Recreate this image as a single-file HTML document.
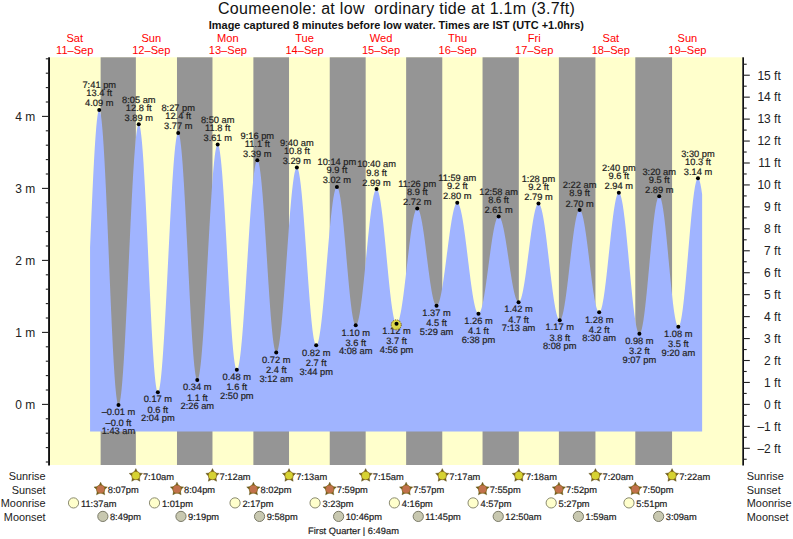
<!DOCTYPE html>
<html><head><meta charset="utf-8"><title>Coumeenole tide chart</title>
<style>
html,body{margin:0;padding:0;background:#fff;}
body{width:793px;height:539px;overflow:hidden;font-family:"Liberation Sans",sans-serif;}
svg{display:block;}
</style></head><body>
<svg width="793" height="539" viewBox="0 0 793 539" font-family="Liberation Sans, sans-serif">
<rect x="0" y="0" width="793" height="539" fill="#ffffff"/>
<rect x="50.00" y="57.30" width="692.30" height="407.70" fill="#ffffcc"/>
<rect x="100.63" y="57.30" width="35.23" height="407.70" fill="#959595"/>
<rect x="176.98" y="57.30" width="35.49" height="407.70" fill="#959595"/>
<rect x="253.38" y="57.30" width="35.65" height="407.70" fill="#959595"/>
<rect x="329.74" y="57.30" width="35.92" height="407.70" fill="#959595"/>
<rect x="406.14" y="57.30" width="36.13" height="407.70" fill="#959595"/>
<rect x="482.54" y="57.30" width="36.29" height="407.70" fill="#959595"/>
<rect x="558.89" y="57.30" width="36.55" height="407.70" fill="#959595"/>
<rect x="635.30" y="57.30" width="36.77" height="407.70" fill="#959595"/>
<path d="M90.06,431.50 L90.06,247.22 L90.22,243.43 L90.38,239.64 L90.54,235.86 L90.69,232.09 L90.85,228.34 L91.01,224.61 L91.17,220.89 L91.33,217.20 L91.49,213.53 L91.65,209.90 L91.81,206.29 L91.97,202.72 L92.13,199.18 L92.29,195.68 L92.45,192.22 L92.61,188.80 L92.77,185.43 L92.93,182.11 L93.09,178.83 L93.24,175.61 L93.40,172.45 L93.56,169.34 L93.72,166.29 L93.88,163.30 L94.04,160.37 L94.20,157.51 L94.36,154.72 L94.52,151.99 L94.68,149.34 L94.84,146.76 L95.00,144.25 L95.16,141.82 L95.32,139.47 L95.48,137.20 L95.64,135.02 L95.80,132.91 L95.95,130.89 L96.11,128.95 L96.27,127.11 L96.43,125.35 L96.59,123.68 L96.75,122.10 L96.91,120.61 L97.07,119.22 L97.23,117.92 L97.39,116.72 L97.55,115.61 L97.71,114.60 L97.87,113.68 L98.03,112.87 L98.19,112.15 L98.35,111.53 L98.50,111.01 L98.66,110.60 L98.82,110.28 L98.98,110.06 L99.14,109.94 L99.30,109.93 L99.46,110.01 L99.62,110.19 L99.78,110.48 L99.94,110.86 L100.10,111.34 L100.26,111.92 L100.42,112.60 L100.58,113.38 L100.74,114.26 L100.90,115.23 L101.06,116.30 L101.21,117.46 L101.37,118.72 L101.53,120.08 L101.69,121.53 L101.85,123.07 L102.01,124.70 L102.17,126.42 L102.33,128.23 L102.49,130.12 L102.65,132.11 L102.81,134.18 L102.97,136.33 L103.13,138.56 L103.29,140.88 L103.45,143.27 L103.61,145.74 L103.77,148.29 L103.92,150.91 L104.08,153.60 L104.24,156.37 L104.40,159.20 L104.56,162.10 L104.72,165.06 L104.88,168.09 L105.04,171.18 L105.20,174.32 L105.36,177.53 L105.52,180.78 L105.68,184.09 L105.84,187.45 L106.00,190.85 L106.16,194.30 L106.32,197.80 L106.47,201.33 L106.63,204.90 L106.79,208.51 L106.95,212.15 L107.11,215.82 L107.27,219.52 L107.43,223.25 L107.59,227.00 L107.75,230.77 L107.91,234.56 L108.07,238.36 L108.23,242.18 L108.39,246.00 L108.55,249.84 L108.71,253.68 L108.87,257.52 L109.03,261.36 L109.18,265.20 L109.34,269.04 L109.50,272.86 L109.66,276.68 L109.82,280.48 L109.98,284.27 L110.14,288.04 L110.30,291.79 L110.46,295.52 L110.62,299.22 L110.78,302.89 L110.94,306.53 L111.10,310.14 L111.26,313.71 L111.42,317.24 L111.58,320.74 L111.73,324.19 L111.89,327.59 L112.05,330.95 L112.21,334.26 L112.37,337.51 L112.53,340.72 L112.69,343.86 L112.85,346.95 L113.01,349.98 L113.17,352.94 L113.33,355.84 L113.49,358.67 L113.65,361.44 L113.81,364.13 L113.97,366.75 L114.13,369.30 L114.29,371.77 L114.44,374.16 L114.60,376.48 L114.76,378.71 L114.92,380.86 L115.08,382.93 L115.24,384.92 L115.40,386.81 L115.56,388.62 L115.72,390.34 L115.88,391.97 L116.04,393.51 L116.20,394.96 L116.36,396.32 L116.52,397.58 L116.68,398.74 L116.84,399.81 L116.99,400.78 L117.15,401.66 L117.31,402.44 L117.47,403.12 L117.63,403.70 L117.79,404.18 L117.95,404.56 L118.11,404.85 L118.27,405.03 L118.43,405.11 L118.59,405.10 L118.75,405.00 L118.91,404.82 L119.07,404.55 L119.23,404.19 L119.39,403.75 L119.55,403.23 L119.70,402.62 L119.86,401.92 L120.02,401.15 L120.18,400.29 L120.34,399.34 L120.50,398.32 L120.66,397.21 L120.82,396.03 L120.98,394.76 L121.14,393.42 L121.30,391.99 L121.46,390.49 L121.62,388.91 L121.78,387.26 L121.94,385.53 L122.10,383.73 L122.25,381.86 L122.41,379.91 L122.57,377.90 L122.73,375.81 L122.89,373.66 L123.05,371.44 L123.21,369.16 L123.37,366.81 L123.53,364.41 L123.69,361.94 L123.85,359.41 L124.01,356.82 L124.17,354.18 L124.33,351.48 L124.49,348.73 L124.65,345.93 L124.81,343.08 L124.96,340.18 L125.12,337.24 L125.28,334.25 L125.44,331.22 L125.60,328.15 L125.76,325.04 L125.92,321.90 L126.08,318.72 L126.24,315.50 L126.40,312.26 L126.56,308.98 L126.72,305.68 L126.88,302.36 L127.04,299.01 L127.20,295.64 L127.36,292.25 L127.52,288.85 L127.67,285.43 L127.83,282.00 L127.99,278.55 L128.15,275.10 L128.31,271.65 L128.47,268.18 L128.63,264.72 L128.79,261.26 L128.95,257.79 L129.11,254.34 L129.27,250.89 L129.43,247.44 L129.59,244.01 L129.75,240.59 L129.91,237.19 L130.07,233.80 L130.22,230.43 L130.38,227.08 L130.54,223.76 L130.70,220.46 L130.86,217.18 L131.02,213.94 L131.18,210.72 L131.34,207.54 L131.50,204.40 L131.66,201.29 L131.82,198.22 L131.98,195.19 L132.14,192.20 L132.30,189.26 L132.46,186.36 L132.62,183.51 L132.78,180.71 L132.93,177.96 L133.09,175.26 L133.25,172.62 L133.41,170.03 L133.57,167.50 L133.73,165.03 L133.89,162.63 L134.05,160.28 L134.21,158.00 L134.37,155.78 L134.53,153.63 L134.69,151.54 L134.85,149.53 L135.01,147.58 L135.17,145.71 L135.33,143.91 L135.48,142.18 L135.64,140.53 L135.80,138.95 L135.96,137.45 L136.12,136.02 L136.28,134.68 L136.44,133.41 L136.60,132.23 L136.76,131.12 L136.92,130.10 L137.08,129.15 L137.24,128.29 L137.40,127.52 L137.56,126.82 L137.72,126.21 L137.88,125.69 L138.04,125.25 L138.19,124.89 L138.35,124.62 L138.51,124.44 L138.67,124.34 L138.83,124.33 L138.99,124.40 L139.15,124.57 L139.31,124.83 L139.47,125.19 L139.63,125.63 L139.79,126.17 L139.95,126.79 L140.11,127.51 L140.27,128.32 L140.43,129.22 L140.59,130.20 L140.74,131.28 L140.90,132.44 L141.06,133.69 L141.22,135.02 L141.38,136.44 L141.54,137.95 L141.70,139.53 L141.86,141.20 L142.02,142.95 L142.18,144.78 L142.34,146.69 L142.50,148.67 L142.66,150.73 L142.82,152.86 L142.98,155.07 L143.14,157.34 L143.30,159.69 L143.45,162.11 L143.61,164.59 L143.77,167.13 L143.93,169.74 L144.09,172.41 L144.25,175.14 L144.41,177.92 L144.57,180.76 L144.73,183.66 L144.89,186.60 L145.05,189.60 L145.21,192.64 L145.37,195.73 L145.53,198.86 L145.69,202.03 L145.85,205.24 L146.00,208.48 L146.16,211.76 L146.32,215.08 L146.48,218.42 L146.64,221.79 L146.80,225.19 L146.96,228.60 L147.12,232.04 L147.28,235.50 L147.44,238.97 L147.60,242.46 L147.76,245.95 L147.92,249.46 L148.08,252.97 L148.24,256.48 L148.40,260.00 L148.56,263.51 L148.71,267.02 L148.87,270.53 L149.03,274.02 L149.19,277.51 L149.35,280.98 L149.51,284.44 L149.67,287.88 L149.83,291.29 L149.99,294.69 L150.15,298.06 L150.31,301.40 L150.47,304.72 L150.63,308.00 L150.79,311.24 L150.95,314.45 L151.11,317.62 L151.26,320.75 L151.42,323.84 L151.58,326.88 L151.74,329.88 L151.90,332.82 L152.06,335.72 L152.22,338.56 L152.38,341.34 L152.54,344.07 L152.70,346.74 L152.86,349.35 L153.02,351.89 L153.18,354.37 L153.34,356.79 L153.50,359.14 L153.66,361.41 L153.82,363.62 L153.97,365.75 L154.13,367.81 L154.29,369.79 L154.45,371.70 L154.61,373.53 L154.77,375.28 L154.93,376.95 L155.09,378.53 L155.25,380.04 L155.41,381.46 L155.57,382.79 L155.73,384.04 L155.89,385.20 L156.05,386.28 L156.21,387.26 L156.37,388.16 L156.53,388.97 L156.68,389.69 L156.84,390.31 L157.00,390.85 L157.16,391.29 L157.32,391.65 L157.48,391.91 L157.64,392.08 L157.80,392.15 L157.96,392.14 L158.12,392.05 L158.28,391.88 L158.44,391.63 L158.60,391.31 L158.76,390.90 L158.92,390.42 L159.08,389.86 L159.23,389.22 L159.39,388.51 L159.55,387.72 L159.71,386.86 L159.87,385.92 L160.03,384.90 L160.19,383.81 L160.35,382.65 L160.51,381.41 L160.67,380.10 L160.83,378.73 L160.99,377.28 L161.15,375.76 L161.31,374.17 L161.47,372.52 L161.63,370.80 L161.79,369.01 L161.94,367.16 L162.10,365.24 L162.26,363.27 L162.42,361.23 L162.58,359.13 L162.74,356.98 L162.90,354.76 L163.06,352.49 L163.22,350.17 L163.38,347.79 L163.54,345.37 L163.70,342.89 L163.86,340.36 L164.02,337.79 L164.18,335.17 L164.34,332.51 L164.49,329.80 L164.65,327.05 L164.81,324.27 L164.97,321.44 L165.13,318.59 L165.29,315.69 L165.45,312.77 L165.61,309.81 L165.77,306.83 L165.93,303.82 L166.09,300.78 L166.25,297.73 L166.41,294.65 L166.57,291.55 L166.73,288.43 L166.89,285.30 L167.05,282.15 L167.20,278.99 L167.36,275.82 L167.52,272.65 L167.68,269.47 L167.84,266.28 L168.00,263.09 L168.16,259.90 L168.32,256.72 L168.48,253.53 L168.64,250.35 L168.80,247.18 L168.96,244.02 L169.12,240.87 L169.28,237.73 L169.44,234.61 L169.60,231.50 L169.75,228.42 L169.91,225.35 L170.07,222.31 L170.23,219.29 L170.39,216.30 L170.55,213.33 L170.71,210.40 L170.87,207.49 L171.03,204.62 L171.19,201.79 L171.35,198.99 L171.51,196.23 L171.67,193.51 L171.83,190.83 L171.99,188.20 L172.15,185.61 L172.31,183.07 L172.46,180.57 L172.62,178.13 L172.78,175.74 L172.94,173.39 L173.10,171.11 L173.26,168.88 L173.42,166.70 L173.58,164.58 L173.74,162.53 L173.90,160.53 L174.06,158.59 L174.22,156.72 L174.38,154.91 L174.54,153.17 L174.70,151.49 L174.86,149.88 L175.01,148.34 L175.17,146.87 L175.33,145.47 L175.49,144.14 L175.65,142.88 L175.81,141.69 L175.97,140.58 L176.13,139.54 L176.29,138.57 L176.45,137.68 L176.61,136.86 L176.77,136.13 L176.93,135.46 L177.09,134.88 L177.25,134.37 L177.41,133.94 L177.57,133.59 L177.72,133.31 L177.88,133.12 L178.04,133.00 L178.20,132.96 L178.36,133.00 L178.52,133.13 L178.68,133.34 L178.84,133.64 L179.00,134.02 L179.16,134.49 L179.32,135.04 L179.48,135.67 L179.64,136.39 L179.80,137.19 L179.96,138.07 L180.12,139.04 L180.28,140.08 L180.43,141.21 L180.59,142.41 L180.75,143.69 L180.91,145.05 L181.07,146.49 L181.23,148.01 L181.39,149.59 L181.55,151.25 L181.71,152.99 L181.87,154.79 L182.03,156.67 L182.19,158.61 L182.35,160.63 L182.51,162.70 L182.67,164.85 L182.83,167.05 L182.98,169.32 L183.14,171.64 L183.30,174.03 L183.46,176.47 L183.62,178.97 L183.78,181.52 L183.94,184.12 L184.10,186.77 L184.26,189.48 L184.42,192.22 L184.58,195.01 L184.74,197.85 L184.90,200.72 L185.06,203.63 L185.22,206.58 L185.38,209.56 L185.54,212.58 L185.69,215.62 L185.85,218.69 L186.01,221.79 L186.17,224.92 L186.33,228.06 L186.49,231.23 L186.65,234.41 L186.81,237.60 L186.97,240.81 L187.13,244.03 L187.29,247.26 L187.45,250.50 L187.61,253.74 L187.77,256.98 L187.93,260.22 L188.09,263.46 L188.24,266.69 L188.40,269.92 L188.56,273.14 L188.72,276.34 L188.88,279.54 L189.04,282.71 L189.20,285.87 L189.36,289.01 L189.52,292.12 L189.68,295.21 L189.84,298.28 L190.00,301.31 L190.16,304.32 L190.32,307.29 L190.48,310.22 L190.64,313.12 L190.80,315.98 L190.95,318.80 L191.11,321.58 L191.27,324.31 L191.43,326.99 L191.59,329.63 L191.75,332.22 L191.91,334.75 L192.07,337.23 L192.23,339.65 L192.39,342.02 L192.55,344.32 L192.71,346.57 L192.87,348.76 L193.03,350.88 L193.19,352.93 L193.35,354.92 L193.50,356.84 L193.66,358.70 L193.82,360.48 L193.98,362.19 L194.14,363.82 L194.30,365.39 L194.46,366.88 L194.62,368.29 L194.78,369.62 L194.94,370.88 L195.10,372.06 L195.26,373.16 L195.42,374.17 L195.58,375.11 L195.74,375.97 L195.90,376.74 L196.06,377.43 L196.21,378.03 L196.37,378.56 L196.53,378.99 L196.69,379.35 L196.85,379.62 L197.01,379.80 L197.17,379.90 L197.33,379.92 L197.49,379.86 L197.65,379.73 L197.81,379.53 L197.97,379.25 L198.13,378.91 L198.29,378.50 L198.45,378.02 L198.61,377.47 L198.76,376.84 L198.92,376.15 L199.08,375.40 L199.24,374.57 L199.40,373.67 L199.56,372.71 L199.72,371.68 L199.88,370.59 L200.04,369.43 L200.20,368.20 L200.36,366.91 L200.52,365.56 L200.68,364.15 L200.84,362.67 L201.00,361.14 L201.16,359.54 L201.32,357.89 L201.47,356.18 L201.63,354.41 L201.79,352.58 L201.95,350.71 L202.11,348.78 L202.27,346.79 L202.43,344.76 L202.59,342.67 L202.75,340.54 L202.91,338.36 L203.07,336.13 L203.23,333.86 L203.39,331.55 L203.55,329.19 L203.71,326.80 L203.87,324.36 L204.03,321.89 L204.18,319.38 L204.34,316.84 L204.50,314.27 L204.66,311.66 L204.82,309.02 L204.98,306.36 L205.14,303.67 L205.30,300.95 L205.46,298.21 L205.62,295.45 L205.78,292.67 L205.94,289.87 L206.10,287.05 L206.26,284.22 L206.42,281.38 L206.58,278.52 L206.73,275.65 L206.89,272.78 L207.05,269.90 L207.21,267.01 L207.37,264.13 L207.53,261.24 L207.69,258.35 L207.85,255.46 L208.01,252.58 L208.17,249.70 L208.33,246.83 L208.49,243.97 L208.65,241.13 L208.81,238.29 L208.97,235.47 L209.13,232.66 L209.29,229.88 L209.44,227.11 L209.60,224.36 L209.76,221.64 L209.92,218.94 L210.08,216.26 L210.24,213.62 L210.40,211.00 L210.56,208.41 L210.72,205.86 L210.88,203.34 L211.04,200.86 L211.20,198.41 L211.36,196.00 L211.52,193.63 L211.68,191.30 L211.84,189.02 L211.99,186.78 L212.15,184.58 L212.31,182.43 L212.47,180.33 L212.63,178.28 L212.79,176.28 L212.95,174.33 L213.11,172.44 L213.27,170.59 L213.43,168.81 L213.59,167.08 L213.75,165.40 L213.91,163.79 L214.07,162.23 L214.23,160.74 L214.39,159.30 L214.55,157.93 L214.70,156.62 L214.86,155.37 L215.02,154.19 L215.18,153.08 L215.34,152.03 L215.50,151.04 L215.66,150.12 L215.82,149.27 L215.98,148.49 L216.14,147.78 L216.30,147.13 L216.46,146.56 L216.62,146.05 L216.78,145.62 L216.94,145.25 L217.10,144.96 L217.25,144.73 L217.41,144.58 L217.57,144.50 L217.73,144.48 L217.89,144.55 L218.05,144.69 L218.21,144.91 L218.37,145.20 L218.53,145.58 L218.69,146.03 L218.85,146.55 L219.01,147.15 L219.17,147.83 L219.33,148.58 L219.49,149.40 L219.65,150.30 L219.81,151.28 L219.96,152.32 L220.12,153.44 L220.28,154.63 L220.44,155.88 L220.60,157.21 L220.76,158.61 L220.92,160.07 L221.08,161.60 L221.24,163.20 L221.40,164.86 L221.56,166.58 L221.72,168.37 L221.88,170.21 L222.04,172.12 L222.20,174.08 L222.36,176.10 L222.51,178.18 L222.67,180.31 L222.83,182.50 L222.99,184.73 L223.15,187.02 L223.31,189.35 L223.47,191.73 L223.63,194.15 L223.79,196.62 L223.95,199.13 L224.11,201.67 L224.27,204.26 L224.43,206.88 L224.59,209.54 L224.75,212.23 L224.91,214.95 L225.07,217.70 L225.22,220.47 L225.38,223.28 L225.54,226.10 L225.70,228.95 L225.86,231.81 L226.02,234.70 L226.18,237.59 L226.34,240.50 L226.50,243.43 L226.66,246.36 L226.82,249.30 L226.98,252.24 L227.14,255.19 L227.30,258.14 L227.46,261.09 L227.62,264.04 L227.77,266.98 L227.93,269.92 L228.09,272.84 L228.25,275.76 L228.41,278.66 L228.57,281.55 L228.73,284.42 L228.89,287.27 L229.05,290.10 L229.21,292.91 L229.37,295.70 L229.53,298.46 L229.69,301.19 L229.85,303.89 L230.01,306.56 L230.17,309.19 L230.33,311.79 L230.48,314.35 L230.64,316.87 L230.80,319.35 L230.96,321.79 L231.12,324.18 L231.28,326.53 L231.44,328.83 L231.60,331.08 L231.76,333.29 L231.92,335.43 L232.08,337.53 L232.24,339.57 L232.40,341.55 L232.56,343.48 L232.72,345.34 L232.88,347.15 L233.04,348.89 L233.19,350.58 L233.35,352.19 L233.51,353.75 L233.67,355.23 L233.83,356.65 L233.99,358.00 L234.15,359.28 L234.31,360.49 L234.47,361.64 L234.63,362.70 L234.79,363.70 L234.95,364.62 L235.11,365.47 L235.27,366.25 L235.43,366.95 L235.59,367.58 L235.74,368.13 L235.90,368.60 L236.06,369.00 L236.22,369.32 L236.38,369.57 L236.54,369.73 L236.70,369.82 L236.86,369.84 L237.02,369.78 L237.18,369.67 L237.34,369.49 L237.50,369.25 L237.66,368.95 L237.82,368.59 L237.98,368.17 L238.14,367.68 L238.30,367.13 L238.45,366.52 L238.61,365.85 L238.77,365.13 L238.93,364.34 L239.09,363.49 L239.25,362.58 L239.41,361.62 L239.57,360.60 L239.73,359.52 L239.89,358.38 L240.05,357.19 L240.21,355.95 L240.37,354.65 L240.53,353.29 L240.69,351.89 L240.85,350.43 L241.00,348.92 L241.16,347.36 L241.32,345.76 L241.48,344.10 L241.64,342.40 L241.80,340.65 L241.96,338.85 L242.12,337.02 L242.28,335.14 L242.44,333.21 L242.60,331.25 L242.76,329.25 L242.92,327.21 L243.08,325.13 L243.24,323.02 L243.40,320.87 L243.56,318.69 L243.71,316.47 L243.87,314.23 L244.03,311.96 L244.19,309.65 L244.35,307.33 L244.51,304.97 L244.67,302.60 L244.83,300.20 L244.99,297.78 L245.15,295.34 L245.31,292.88 L245.47,290.41 L245.63,287.92 L245.79,285.41 L245.95,282.90 L246.11,280.37 L246.26,277.84 L246.42,275.30 L246.58,272.75 L246.74,270.19 L246.90,267.64 L247.06,265.08 L247.22,262.52 L247.38,259.97 L247.54,257.41 L247.70,254.86 L247.86,252.32 L248.02,249.79 L248.18,247.26 L248.34,244.75 L248.50,242.24 L248.66,239.75 L248.82,237.28 L248.97,234.82 L249.13,232.38 L249.29,229.96 L249.45,227.56 L249.61,225.19 L249.77,222.83 L249.93,220.51 L250.09,218.20 L250.25,215.93 L250.41,213.69 L250.57,211.47 L250.73,209.29 L250.89,207.14 L251.05,205.03 L251.21,202.95 L251.37,200.91 L251.52,198.91 L251.68,196.95 L251.84,195.02 L252.00,193.14 L252.16,191.31 L252.32,189.51 L252.48,187.76 L252.64,186.06 L252.80,184.40 L252.96,182.80 L253.12,181.24 L253.28,179.73 L253.44,178.27 L253.60,176.87 L253.76,175.51 L253.92,174.21 L254.08,172.97 L254.23,171.78 L254.39,170.64 L254.55,169.56 L254.71,168.54 L254.87,167.58 L255.03,166.67 L255.19,165.82 L255.35,165.03 L255.51,164.31 L255.67,163.64 L255.83,163.03 L255.99,162.48 L256.15,161.99 L256.31,161.57 L256.47,161.21 L256.63,160.91 L256.79,160.67 L256.94,160.49 L257.10,160.38 L257.26,160.32 L257.42,160.33 L257.58,160.41 L257.74,160.56 L257.90,160.77 L258.06,161.05 L258.22,161.40 L258.38,161.81 L258.54,162.29 L258.70,162.84 L258.86,163.45 L259.02,164.13 L259.18,164.87 L259.34,165.67 L259.49,166.54 L259.65,167.48 L259.81,168.47 L259.97,169.53 L260.13,170.64 L260.29,171.82 L260.45,173.06 L260.61,174.35 L260.77,175.70 L260.93,177.11 L261.09,178.58 L261.25,180.10 L261.41,181.67 L261.57,183.29 L261.73,184.97 L261.89,186.70 L262.05,188.47 L262.20,190.30 L262.36,192.17 L262.52,194.08 L262.68,196.04 L262.84,198.04 L263.00,200.08 L263.16,202.16 L263.32,204.28 L263.48,206.43 L263.64,208.63 L263.80,210.85 L263.96,213.11 L264.12,215.39 L264.28,217.71 L264.44,220.05 L264.60,222.42 L264.75,224.81 L264.91,227.22 L265.07,229.66 L265.23,232.11 L265.39,234.58 L265.55,237.06 L265.71,239.56 L265.87,242.07 L266.03,244.59 L266.19,247.12 L266.35,249.66 L266.51,252.20 L266.67,254.74 L266.83,257.29 L266.99,259.83 L267.15,262.37 L267.31,264.91 L267.46,267.44 L267.62,269.97 L267.78,272.48 L267.94,274.98 L268.10,277.47 L268.26,279.95 L268.42,282.41 L268.58,284.85 L268.74,287.27 L268.90,289.67 L269.06,292.04 L269.22,294.40 L269.38,296.72 L269.54,299.02 L269.70,301.28 L269.86,303.52 L270.01,305.72 L270.17,307.89 L270.33,310.02 L270.49,312.11 L270.65,314.17 L270.81,316.18 L270.97,318.15 L271.13,320.08 L271.29,321.97 L271.45,323.80 L271.61,325.60 L271.77,327.34 L271.93,329.03 L272.09,330.67 L272.25,332.26 L272.41,333.80 L272.57,335.28 L272.72,336.71 L272.88,338.08 L273.04,339.40 L273.20,340.65 L273.36,341.85 L273.52,342.99 L273.68,344.07 L273.84,345.08 L274.00,346.03 L274.16,346.92 L274.32,347.75 L274.48,348.51 L274.64,349.21 L274.80,349.84 L274.96,350.41 L275.12,350.91 L275.27,351.35 L275.43,351.72 L275.59,352.02 L275.75,352.26 L275.91,352.43 L276.07,352.53 L276.23,352.56 L276.39,352.53 L276.55,352.45 L276.71,352.31 L276.87,352.12 L277.03,351.88 L277.19,351.58 L277.35,351.23 L277.51,350.82 L277.67,350.36 L277.83,349.84 L277.98,349.28 L278.14,348.66 L278.30,347.99 L278.46,347.26 L278.62,346.49 L278.78,345.66 L278.94,344.78 L279.10,343.86 L279.26,342.88 L279.42,341.86 L279.58,340.78 L279.74,339.66 L279.90,338.49 L280.06,337.28 L280.22,336.02 L280.38,334.71 L280.54,333.36 L280.69,331.97 L280.85,330.54 L281.01,329.06 L281.17,327.55 L281.33,325.99 L281.49,324.39 L281.65,322.76 L281.81,321.09 L281.97,319.38 L282.13,317.64 L282.29,315.87 L282.45,314.06 L282.61,312.22 L282.77,310.35 L282.93,308.45 L283.09,306.52 L283.24,304.56 L283.40,302.58 L283.56,300.57 L283.72,298.54 L283.88,296.48 L284.04,294.41 L284.20,292.31 L284.36,290.19 L284.52,288.06 L284.68,285.91 L284.84,283.74 L285.00,281.57 L285.16,279.37 L285.32,277.17 L285.48,274.96 L285.64,272.73 L285.80,270.51 L285.95,268.27 L286.11,266.03 L286.27,263.78 L286.43,261.54 L286.59,259.29 L286.75,257.04 L286.91,254.80 L287.07,252.56 L287.23,250.32 L287.39,248.09 L287.55,245.86 L287.71,243.65 L287.87,241.44 L288.03,239.24 L288.19,237.06 L288.35,234.89 L288.50,232.74 L288.66,230.60 L288.82,228.47 L288.98,226.37 L289.14,224.29 L289.30,222.23 L289.46,220.19 L289.62,218.17 L289.78,216.18 L289.94,214.21 L290.10,212.27 L290.26,210.36 L290.42,208.48 L290.58,206.63 L290.74,204.81 L290.90,203.03 L291.06,201.27 L291.21,199.56 L291.37,197.87 L291.53,196.23 L291.69,194.62 L291.85,193.05 L292.01,191.52 L292.17,190.03 L292.33,188.58 L292.49,187.17 L292.65,185.81 L292.81,184.49 L292.97,183.22 L293.13,181.99 L293.29,180.80 L293.45,179.67 L293.61,178.58 L293.76,177.54 L293.92,176.54 L294.08,175.60 L294.24,174.71 L294.40,173.86 L294.56,173.07 L294.72,172.33 L294.88,171.64 L295.04,171.00 L295.20,170.42 L295.36,169.89 L295.52,169.41 L295.68,168.98 L295.84,168.61 L296.00,168.30 L296.16,168.03 L296.32,167.82 L296.47,167.67 L296.63,167.57 L296.79,167.52 L296.95,167.53 L297.11,167.60 L297.27,167.73 L297.43,167.92 L297.59,168.17 L297.75,168.48 L297.91,168.84 L298.07,169.27 L298.23,169.75 L298.39,170.29 L298.55,170.89 L298.71,171.55 L298.87,172.26 L299.02,173.03 L299.18,173.85 L299.34,174.74 L299.50,175.67 L299.66,176.66 L299.82,177.71 L299.98,178.80 L300.14,179.95 L300.30,181.15 L300.46,182.40 L300.62,183.70 L300.78,185.05 L300.94,186.44 L301.10,187.89 L301.26,189.38 L301.42,190.91 L301.58,192.49 L301.73,194.11 L301.89,195.77 L302.05,197.48 L302.21,199.22 L302.37,201.00 L302.53,202.82 L302.69,204.67 L302.85,206.56 L303.01,208.48 L303.17,210.44 L303.33,212.42 L303.49,214.44 L303.65,216.48 L303.81,218.55 L303.97,220.65 L304.13,222.77 L304.28,224.91 L304.44,227.07 L304.60,229.25 L304.76,231.46 L304.92,233.67 L305.08,235.91 L305.24,238.15 L305.40,240.41 L305.56,242.68 L305.72,244.96 L305.88,247.25 L306.04,249.54 L306.20,251.84 L306.36,254.14 L306.52,256.44 L306.68,258.74 L306.84,261.04 L306.99,263.34 L307.15,265.63 L307.31,267.92 L307.47,270.20 L307.63,272.47 L307.79,274.73 L307.95,276.97 L308.11,279.21 L308.27,281.42 L308.43,283.63 L308.59,285.81 L308.75,287.97 L308.91,290.11 L309.07,292.23 L309.23,294.33 L309.39,296.40 L309.55,298.44 L309.70,300.46 L309.86,302.44 L310.02,304.40 L310.18,306.32 L310.34,308.21 L310.50,310.06 L310.66,311.88 L310.82,313.66 L310.98,315.40 L311.14,317.11 L311.30,318.77 L311.46,320.39 L311.62,321.97 L311.78,323.50 L311.94,324.99 L312.10,326.44 L312.25,327.83 L312.41,329.18 L312.57,330.48 L312.73,331.73 L312.89,332.93 L313.05,334.08 L313.21,335.17 L313.37,336.22 L313.53,337.21 L313.69,338.14 L313.85,339.03 L314.01,339.85 L314.17,340.62 L314.33,341.33 L314.49,341.99 L314.65,342.59 L314.81,343.13 L314.96,343.61 L315.12,344.04 L315.28,344.40 L315.44,344.71 L315.60,344.96 L315.76,345.15 L315.92,345.28 L316.08,345.35 L316.24,345.36 L316.40,345.32 L316.56,345.23 L316.72,345.10 L316.88,344.93 L317.04,344.70 L317.20,344.43 L317.36,344.12 L317.51,343.76 L317.67,343.35 L317.83,342.90 L317.99,342.41 L318.15,341.87 L318.31,341.28 L318.47,340.66 L318.63,339.98 L318.79,339.27 L318.95,338.51 L319.11,337.71 L319.27,336.87 L319.43,335.99 L319.59,335.07 L319.75,334.10 L319.91,333.10 L320.07,332.06 L320.22,330.98 L320.38,329.86 L320.54,328.70 L320.70,327.51 L320.86,326.28 L321.02,325.02 L321.18,323.72 L321.34,322.39 L321.50,321.02 L321.66,319.63 L321.82,318.20 L321.98,316.74 L322.14,315.25 L322.30,313.74 L322.46,312.19 L322.62,310.62 L322.77,309.03 L322.93,307.41 L323.09,305.76 L323.25,304.09 L323.41,302.40 L323.57,300.69 L323.73,298.96 L323.89,297.20 L324.05,295.43 L324.21,293.65 L324.37,291.84 L324.53,290.03 L324.69,288.19 L324.85,286.35 L325.01,284.49 L325.17,282.63 L325.33,280.75 L325.48,278.86 L325.64,276.97 L325.80,275.07 L325.96,273.17 L326.12,271.26 L326.28,269.35 L326.44,267.44 L326.60,265.52 L326.76,263.61 L326.92,261.70 L327.08,259.79 L327.24,257.88 L327.40,255.98 L327.56,254.09 L327.72,252.20 L327.88,250.32 L328.03,248.45 L328.19,246.59 L328.35,244.74 L328.51,242.90 L328.67,241.08 L328.83,239.27 L328.99,237.48 L329.15,235.70 L329.31,233.95 L329.47,232.21 L329.63,230.49 L329.79,228.79 L329.95,227.11 L330.11,225.46 L330.27,223.83 L330.43,222.23 L330.59,220.65 L330.74,219.09 L330.90,217.57 L331.06,216.07 L331.22,214.60 L331.38,213.16 L331.54,211.76 L331.70,210.38 L331.86,209.04 L332.02,207.73 L332.18,206.46 L332.34,205.22 L332.50,204.01 L332.66,202.84 L332.82,201.71 L332.98,200.62 L333.14,199.56 L333.30,198.55 L333.45,197.57 L333.61,196.63 L333.77,195.74 L333.93,194.88 L334.09,194.07 L334.25,193.30 L334.41,192.57 L334.57,191.88 L334.73,191.24 L334.89,190.64 L335.05,190.09 L335.21,189.58 L335.37,189.11 L335.53,188.69 L335.69,188.32 L335.85,187.99 L336.00,187.70 L336.16,187.46 L336.32,187.27 L336.48,187.12 L336.64,187.02 L336.80,186.97 L336.96,186.96 L337.12,187.00 L337.28,187.09 L337.44,187.23 L337.60,187.42 L337.76,187.66 L337.92,187.94 L338.08,188.27 L338.24,188.65 L338.40,189.08 L338.56,189.56 L338.71,190.08 L338.87,190.65 L339.03,191.27 L339.19,191.93 L339.35,192.64 L339.51,193.39 L339.67,194.19 L339.83,195.03 L339.99,195.92 L340.15,196.84 L340.31,197.81 L340.47,198.82 L340.63,199.87 L340.79,200.96 L340.95,202.09 L341.11,203.26 L341.26,204.47 L341.42,205.71 L341.58,206.99 L341.74,208.30 L341.90,209.65 L342.06,211.03 L342.22,212.44 L342.38,213.88 L342.54,215.35 L342.70,216.85 L342.86,218.38 L343.02,219.94 L343.18,221.52 L343.34,223.13 L343.50,224.75 L343.66,226.41 L343.82,228.08 L343.97,229.77 L344.13,231.48 L344.29,233.21 L344.45,234.95 L344.61,236.71 L344.77,238.49 L344.93,240.27 L345.09,242.07 L345.25,243.88 L345.41,245.69 L345.57,247.51 L345.73,249.34 L345.89,251.18 L346.05,253.01 L346.21,254.85 L346.37,256.69 L346.52,258.53 L346.68,260.37 L346.84,262.21 L347.00,264.04 L347.16,265.86 L347.32,267.68 L347.48,269.49 L347.64,271.29 L347.80,273.08 L347.96,274.86 L348.12,276.62 L348.28,278.37 L348.44,280.10 L348.60,281.82 L348.76,283.52 L348.92,285.20 L349.08,286.86 L349.23,288.49 L349.39,290.11 L349.55,291.70 L349.71,293.26 L349.87,294.80 L350.03,296.31 L350.19,297.79 L350.35,299.24 L350.51,300.67 L350.67,302.06 L350.83,303.41 L350.99,304.74 L351.15,306.03 L351.31,307.28 L351.47,308.50 L351.63,309.68 L351.78,310.82 L351.94,311.93 L352.10,312.99 L352.26,314.02 L352.42,315.00 L352.58,315.94 L352.74,316.84 L352.90,317.69 L353.06,318.51 L353.22,319.27 L353.38,320.00 L353.54,320.67 L353.70,321.31 L353.86,321.89 L354.02,322.43 L354.18,322.92 L354.34,323.37 L354.49,323.77 L354.65,324.11 L354.81,324.41 L354.97,324.67 L355.13,324.87 L355.29,325.03 L355.45,325.13 L355.61,325.19 L355.77,325.20 L355.93,325.17 L356.09,325.09 L356.25,324.98 L356.41,324.83 L356.57,324.64 L356.73,324.41 L356.89,324.15 L357.05,323.84 L357.20,323.49 L357.36,323.11 L357.52,322.69 L357.68,322.23 L357.84,321.73 L358.00,321.20 L358.16,320.63 L358.32,320.02 L358.48,319.38 L358.64,318.70 L358.80,317.98 L358.96,317.23 L359.12,316.44 L359.28,315.62 L359.44,314.77 L359.60,313.88 L359.75,312.96 L359.91,312.01 L360.07,311.03 L360.23,310.01 L360.39,308.97 L360.55,307.89 L360.71,306.79 L360.87,305.66 L361.03,304.49 L361.19,303.31 L361.35,302.09 L361.51,300.85 L361.67,299.58 L361.83,298.29 L361.99,296.98 L362.15,295.64 L362.31,294.28 L362.46,292.90 L362.62,291.49 L362.78,290.07 L362.94,288.63 L363.10,287.17 L363.26,285.70 L363.42,284.20 L363.58,282.69 L363.74,281.17 L363.90,279.63 L364.06,278.08 L364.22,276.52 L364.38,274.95 L364.54,273.36 L364.70,271.77 L364.86,270.17 L365.01,268.56 L365.17,266.94 L365.33,265.32 L365.49,263.69 L365.65,262.06 L365.81,260.43 L365.97,258.80 L366.13,257.16 L366.29,255.52 L366.45,253.89 L366.61,252.26 L366.77,250.63 L366.93,249.00 L367.09,247.38 L367.25,245.76 L367.41,244.15 L367.57,242.55 L367.72,240.96 L367.88,239.37 L368.04,237.80 L368.20,236.24 L368.36,234.69 L368.52,233.15 L368.68,231.63 L368.84,230.12 L369.00,228.62 L369.16,227.15 L369.32,225.69 L369.48,224.25 L369.64,222.83 L369.80,221.42 L369.96,220.04 L370.12,218.68 L370.27,217.34 L370.43,216.03 L370.59,214.74 L370.75,213.47 L370.91,212.23 L371.07,211.01 L371.23,209.83 L371.39,208.66 L371.55,207.53 L371.71,206.43 L371.87,205.35 L372.03,204.31 L372.19,203.29 L372.35,202.31 L372.51,201.36 L372.67,200.44 L372.83,199.55 L372.98,198.70 L373.14,197.88 L373.30,197.09 L373.46,196.34 L373.62,195.62 L373.78,194.94 L373.94,194.30 L374.10,193.69 L374.26,193.12 L374.42,192.59 L374.58,192.09 L374.74,191.63 L374.90,191.21 L375.06,190.83 L375.22,190.48 L375.38,190.17 L375.53,189.91 L375.69,189.68 L375.85,189.49 L376.01,189.34 L376.17,189.23 L376.33,189.15 L376.49,189.12 L376.65,189.13 L376.81,189.18 L376.97,189.27 L377.13,189.40 L377.29,189.58 L377.45,189.80 L377.61,190.06 L377.77,190.36 L377.93,190.70 L378.09,191.09 L378.24,191.51 L378.40,191.98 L378.56,192.48 L378.72,193.03 L378.88,193.62 L379.04,194.24 L379.20,194.91 L379.36,195.61 L379.52,196.36 L379.68,197.14 L379.84,197.95 L380.00,198.81 L380.16,199.70 L380.32,200.62 L380.48,201.58 L380.64,202.58 L380.79,203.61 L380.95,204.67 L381.11,205.76 L381.27,206.89 L381.43,208.05 L381.59,209.24 L381.75,210.45 L381.91,211.70 L382.07,212.98 L382.23,214.28 L382.39,215.61 L382.55,216.96 L382.71,218.34 L382.87,219.74 L383.03,221.17 L383.19,222.62 L383.35,224.09 L383.50,225.58 L383.66,227.09 L383.82,228.61 L383.98,230.16 L384.14,231.72 L384.30,233.30 L384.46,234.89 L384.62,236.49 L384.78,238.11 L384.94,239.74 L385.10,241.38 L385.26,243.03 L385.42,244.69 L385.58,246.35 L385.74,248.02 L385.90,249.70 L386.06,251.38 L386.21,253.07 L386.37,254.75 L386.53,256.44 L386.69,258.13 L386.85,259.81 L387.01,261.50 L387.17,263.18 L387.33,264.86 L387.49,266.53 L387.65,268.19 L387.81,269.85 L387.97,271.50 L388.13,273.14 L388.29,274.77 L388.45,276.39 L388.61,277.99 L388.76,279.58 L388.92,281.16 L389.08,282.72 L389.24,284.27 L389.40,285.79 L389.56,287.30 L389.72,288.79 L389.88,290.26 L390.04,291.71 L390.20,293.14 L390.36,294.54 L390.52,295.92 L390.68,297.27 L390.84,298.60 L391.00,299.90 L391.16,301.18 L391.32,302.43 L391.47,303.64 L391.63,304.83 L391.79,305.99 L391.95,307.12 L392.11,308.21 L392.27,309.27 L392.43,310.30 L392.59,311.30 L392.75,312.26 L392.91,313.18 L393.07,314.07 L393.23,314.93 L393.39,315.74 L393.55,316.52 L393.71,317.27 L393.87,317.97 L394.02,318.64 L394.18,319.26 L394.34,319.85 L394.50,320.40 L394.66,320.90 L394.82,321.37 L394.98,321.79 L395.14,322.18 L395.30,322.52 L395.46,322.82 L395.62,323.08 L395.78,323.30 L395.94,323.48 L396.10,323.61 L396.26,323.70 L396.42,323.75 L396.58,323.76 L396.73,323.73 L396.89,323.67 L397.05,323.57 L397.21,323.44 L397.37,323.28 L397.53,323.09 L397.69,322.86 L397.85,322.60 L398.01,322.30 L398.17,321.97 L398.33,321.61 L398.49,321.22 L398.65,320.80 L398.81,320.34 L398.97,319.85 L399.13,319.33 L399.28,318.78 L399.44,318.20 L399.60,317.59 L399.76,316.94 L399.92,316.27 L400.08,315.57 L400.24,314.84 L400.40,314.08 L400.56,313.30 L400.72,312.49 L400.88,311.64 L401.04,310.78 L401.20,309.88 L401.36,308.97 L401.52,308.02 L401.68,307.05 L401.84,306.06 L401.99,305.05 L402.15,304.01 L402.31,302.95 L402.47,301.87 L402.63,300.76 L402.79,299.64 L402.95,298.50 L403.11,297.34 L403.27,296.16 L403.43,294.96 L403.59,293.75 L403.75,292.52 L403.91,291.27 L404.07,290.01 L404.23,288.74 L404.39,287.45 L404.54,286.15 L404.70,284.84 L404.86,283.52 L405.02,282.19 L405.18,280.84 L405.34,279.49 L405.50,278.14 L405.66,276.77 L405.82,275.40 L405.98,274.02 L406.14,272.64 L406.30,271.26 L406.46,269.87 L406.62,268.48 L406.78,267.09 L406.94,265.70 L407.10,264.30 L407.25,262.91 L407.41,261.53 L407.57,260.14 L407.73,258.76 L407.89,257.38 L408.05,256.01 L408.21,254.64 L408.37,253.28 L408.53,251.93 L408.69,250.58 L408.85,249.25 L409.01,247.92 L409.17,246.61 L409.33,245.30 L409.49,244.01 L409.65,242.73 L409.81,241.47 L409.96,240.22 L410.12,238.98 L410.28,237.76 L410.44,236.56 L410.60,235.37 L410.76,234.21 L410.92,233.06 L411.08,231.93 L411.24,230.82 L411.40,229.73 L411.56,228.66 L411.72,227.62 L411.88,226.59 L412.04,225.60 L412.20,224.62 L412.36,223.67 L412.51,222.74 L412.67,221.84 L412.83,220.96 L412.99,220.11 L413.15,219.29 L413.31,218.49 L413.47,217.73 L413.63,216.99 L413.79,216.28 L413.95,215.60 L414.11,214.94 L414.27,214.32 L414.43,213.73 L414.59,213.17 L414.75,212.64 L414.91,212.14 L415.07,211.67 L415.22,211.24 L415.38,210.83 L415.54,210.46 L415.70,210.12 L415.86,209.82 L416.02,209.55 L416.18,209.31 L416.34,209.10 L416.50,208.93 L416.66,208.79 L416.82,208.68 L416.98,208.61 L417.14,208.57 L417.30,208.56 L417.46,208.59 L417.62,208.65 L417.77,208.74 L417.93,208.87 L418.09,209.03 L418.25,209.22 L418.41,209.44 L418.57,209.69 L418.73,209.98 L418.89,210.30 L419.05,210.65 L419.21,211.03 L419.37,211.44 L419.53,211.89 L419.69,212.36 L419.85,212.86 L420.01,213.40 L420.17,213.96 L420.33,214.56 L420.48,215.18 L420.64,215.83 L420.80,216.50 L420.96,217.21 L421.12,217.94 L421.28,218.70 L421.44,219.48 L421.60,220.29 L421.76,221.13 L421.92,221.99 L422.08,222.87 L422.24,223.77 L422.40,224.70 L422.56,225.65 L422.72,226.62 L422.88,227.62 L423.03,228.63 L423.19,229.66 L423.35,230.71 L423.51,231.78 L423.67,232.86 L423.83,233.96 L423.99,235.08 L424.15,236.21 L424.31,237.35 L424.47,238.51 L424.63,239.68 L424.79,240.87 L424.95,242.06 L425.11,243.27 L425.27,244.48 L425.43,245.70 L425.59,246.93 L425.74,248.17 L425.90,249.41 L426.06,250.66 L426.22,251.91 L426.38,253.17 L426.54,254.43 L426.70,255.69 L426.86,256.95 L427.02,258.21 L427.18,259.47 L427.34,260.73 L427.50,261.99 L427.66,263.24 L427.82,264.49 L427.98,265.74 L428.14,266.98 L428.29,268.21 L428.45,269.43 L428.61,270.65 L428.77,271.86 L428.93,273.06 L429.09,274.24 L429.25,275.42 L429.41,276.58 L429.57,277.73 L429.73,278.87 L429.89,279.99 L430.05,281.09 L430.21,282.18 L430.37,283.26 L430.53,284.31 L430.69,285.35 L430.85,286.37 L431.00,287.37 L431.16,288.35 L431.32,289.30 L431.48,290.24 L431.64,291.15 L431.80,292.04 L431.96,292.91 L432.12,293.75 L432.28,294.57 L432.44,295.36 L432.60,296.13 L432.76,296.87 L432.92,297.58 L433.08,298.27 L433.24,298.93 L433.40,299.56 L433.56,300.16 L433.71,300.74 L433.87,301.28 L434.03,301.79 L434.19,302.28 L434.35,302.73 L434.51,303.16 L434.67,303.55 L434.83,303.91 L434.99,304.24 L435.15,304.53 L435.31,304.80 L435.47,305.03 L435.63,305.23 L435.79,305.40 L435.95,305.54 L436.11,305.64 L436.26,305.71 L436.42,305.75 L436.58,305.76 L436.74,305.73 L436.90,305.68 L437.06,305.59 L437.22,305.48 L437.38,305.33 L437.54,305.16 L437.70,304.95 L437.86,304.72 L438.02,304.46 L438.18,304.16 L438.34,303.84 L438.50,303.49 L438.66,303.11 L438.82,302.70 L438.97,302.27 L439.13,301.80 L439.29,301.31 L439.45,300.79 L439.61,300.24 L439.77,299.67 L439.93,299.07 L440.09,298.44 L440.25,297.79 L440.41,297.11 L440.57,296.41 L440.73,295.68 L440.89,294.93 L441.05,294.16 L441.21,293.36 L441.37,292.54 L441.52,291.69 L441.68,290.83 L441.84,289.94 L442.00,289.03 L442.16,288.11 L442.32,287.16 L442.48,286.19 L442.64,285.21 L442.80,284.20 L442.96,283.18 L443.12,282.14 L443.28,281.09 L443.44,280.02 L443.60,278.94 L443.76,277.84 L443.92,276.72 L444.08,275.60 L444.23,274.46 L444.39,273.31 L444.55,272.15 L444.71,270.97 L444.87,269.79 L445.03,268.60 L445.19,267.40 L445.35,266.20 L445.51,264.98 L445.67,263.76 L445.83,262.54 L445.99,261.31 L446.15,260.07 L446.31,258.84 L446.47,257.60 L446.63,256.35 L446.78,255.11 L446.94,253.87 L447.10,252.62 L447.26,251.38 L447.42,250.14 L447.58,248.90 L447.74,247.66 L447.90,246.43 L448.06,245.20 L448.22,243.98 L448.38,242.77 L448.54,241.56 L448.70,240.36 L448.86,239.16 L449.02,237.98 L449.18,236.80 L449.34,235.64 L449.49,234.48 L449.65,233.34 L449.81,232.21 L449.97,231.09 L450.13,229.99 L450.29,228.90 L450.45,227.83 L450.61,226.77 L450.77,225.72 L450.93,224.70 L451.09,223.69 L451.25,222.69 L451.41,221.72 L451.57,220.77 L451.73,219.83 L451.89,218.92 L452.04,218.03 L452.20,217.15 L452.36,216.30 L452.52,215.47 L452.68,214.67 L452.84,213.88 L453.00,213.12 L453.16,212.39 L453.32,211.68 L453.48,210.99 L453.64,210.33 L453.80,209.70 L453.96,209.09 L454.12,208.51 L454.28,207.95 L454.44,207.42 L454.60,206.92 L454.75,206.45 L454.91,206.00 L455.07,205.58 L455.23,205.19 L455.39,204.83 L455.55,204.50 L455.71,204.20 L455.87,203.92 L456.03,203.68 L456.19,203.47 L456.35,203.28 L456.51,203.13 L456.67,203.00 L456.83,202.91 L456.99,202.84 L457.15,202.81 L457.30,202.80 L457.46,202.83 L457.62,202.88 L457.78,202.97 L457.94,203.09 L458.10,203.24 L458.26,203.42 L458.42,203.63 L458.58,203.87 L458.74,204.14 L458.90,204.44 L459.06,204.77 L459.22,205.14 L459.38,205.53 L459.54,205.95 L459.70,206.40 L459.86,206.88 L460.01,207.38 L460.17,207.92 L460.33,208.48 L460.49,209.07 L460.65,209.69 L460.81,210.34 L460.97,211.01 L461.13,211.71 L461.29,212.43 L461.45,213.18 L461.61,213.96 L461.77,214.76 L461.93,215.58 L462.09,216.43 L462.25,217.30 L462.41,218.20 L462.57,219.12 L462.72,220.05 L462.88,221.01 L463.04,221.99 L463.20,223.00 L463.36,224.02 L463.52,225.06 L463.68,226.11 L463.84,227.19 L464.00,228.28 L464.16,229.39 L464.32,230.52 L464.48,231.66 L464.64,232.82 L464.80,233.99 L464.96,235.17 L465.12,236.37 L465.27,237.58 L465.43,238.80 L465.59,240.03 L465.75,241.27 L465.91,242.53 L466.07,243.79 L466.23,245.05 L466.39,246.33 L466.55,247.61 L466.71,248.90 L466.87,250.19 L467.03,251.49 L467.19,252.79 L467.35,254.10 L467.51,255.40 L467.67,256.71 L467.83,258.02 L467.98,259.33 L468.14,260.64 L468.30,261.95 L468.46,263.25 L468.62,264.56 L468.78,265.85 L468.94,267.15 L469.10,268.44 L469.26,269.72 L469.42,271.00 L469.58,272.27 L469.74,273.54 L469.90,274.79 L470.06,276.03 L470.22,277.27 L470.38,278.49 L470.53,279.71 L470.69,280.91 L470.85,282.10 L471.01,283.27 L471.17,284.43 L471.33,285.58 L471.49,286.71 L471.65,287.83 L471.81,288.93 L471.97,290.01 L472.13,291.07 L472.29,292.12 L472.45,293.15 L472.61,294.15 L472.77,295.14 L472.93,296.11 L473.09,297.05 L473.24,297.98 L473.40,298.88 L473.56,299.76 L473.72,300.62 L473.88,301.45 L474.04,302.26 L474.20,303.04 L474.36,303.80 L474.52,304.53 L474.68,305.24 L474.84,305.92 L475.00,306.58 L475.16,307.20 L475.32,307.80 L475.48,308.38 L475.64,308.92 L475.79,309.44 L475.95,309.93 L476.11,310.39 L476.27,310.82 L476.43,311.22 L476.59,311.59 L476.75,311.93 L476.91,312.24 L477.07,312.52 L477.23,312.77 L477.39,312.99 L477.55,313.18 L477.71,313.34 L477.87,313.47 L478.03,313.57 L478.19,313.64 L478.35,313.67 L478.50,313.68 L478.66,313.65 L478.82,313.60 L478.98,313.51 L479.14,313.40 L479.30,313.26 L479.46,313.08 L479.62,312.88 L479.78,312.65 L479.94,312.38 L480.10,312.09 L480.26,311.77 L480.42,311.42 L480.58,311.05 L480.74,310.64 L480.90,310.21 L481.05,309.75 L481.21,309.26 L481.37,308.74 L481.53,308.20 L481.69,307.63 L481.85,307.03 L482.01,306.41 L482.17,305.77 L482.33,305.09 L482.49,304.40 L482.65,303.68 L482.81,302.93 L482.97,302.17 L483.13,301.38 L483.29,300.56 L483.45,299.73 L483.61,298.87 L483.76,298.00 L483.92,297.10 L484.08,296.18 L484.24,295.25 L484.40,294.29 L484.56,293.32 L484.72,292.33 L484.88,291.32 L485.04,290.30 L485.20,289.26 L485.36,288.21 L485.52,287.14 L485.68,286.06 L485.84,284.97 L486.00,283.86 L486.16,282.75 L486.32,281.62 L486.47,280.48 L486.63,279.33 L486.79,278.18 L486.95,277.01 L487.11,275.84 L487.27,274.66 L487.43,273.48 L487.59,272.29 L487.75,271.09 L487.91,269.89 L488.07,268.69 L488.23,267.49 L488.39,266.29 L488.55,265.08 L488.71,263.87 L488.87,262.67 L489.02,261.47 L489.18,260.27 L489.34,259.07 L489.50,257.87 L489.66,256.68 L489.82,255.50 L489.98,254.32 L490.14,253.15 L490.30,251.98 L490.46,250.83 L490.62,249.68 L490.78,248.54 L490.94,247.41 L491.10,246.30 L491.26,245.19 L491.42,244.10 L491.58,243.02 L491.73,241.95 L491.89,240.90 L492.05,239.86 L492.21,238.84 L492.37,237.83 L492.53,236.84 L492.69,235.87 L492.85,234.91 L493.01,233.98 L493.17,233.06 L493.33,232.16 L493.49,231.29 L493.65,230.43 L493.81,229.60 L493.97,228.78 L494.13,227.99 L494.28,227.23 L494.44,226.48 L494.60,225.76 L494.76,225.07 L494.92,224.39 L495.08,223.75 L495.24,223.13 L495.40,222.53 L495.56,221.96 L495.72,221.42 L495.88,220.90 L496.04,220.41 L496.20,219.95 L496.36,219.52 L496.52,219.11 L496.68,218.74 L496.84,218.39 L496.99,218.07 L497.15,217.78 L497.31,217.51 L497.47,217.28 L497.63,217.08 L497.79,216.90 L497.95,216.76 L498.11,216.65 L498.27,216.56 L498.43,216.51 L498.59,216.48 L498.75,216.49 L498.91,216.52 L499.07,216.58 L499.23,216.66 L499.39,216.77 L499.54,216.91 L499.70,217.08 L499.86,217.27 L500.02,217.49 L500.18,217.74 L500.34,218.01 L500.50,218.31 L500.66,218.63 L500.82,218.98 L500.98,219.36 L501.14,219.76 L501.30,220.18 L501.46,220.63 L501.62,221.11 L501.78,221.61 L501.94,222.13 L502.10,222.68 L502.25,223.25 L502.41,223.84 L502.57,224.45 L502.73,225.09 L502.89,225.75 L503.05,226.43 L503.21,227.13 L503.37,227.85 L503.53,228.59 L503.69,229.35 L503.85,230.13 L504.01,230.92 L504.17,231.74 L504.33,232.57 L504.49,233.42 L504.65,234.28 L504.80,235.17 L504.96,236.06 L505.12,236.97 L505.28,237.90 L505.44,238.84 L505.60,239.79 L505.76,240.76 L505.92,241.73 L506.08,242.72 L506.24,243.72 L506.40,244.72 L506.56,245.74 L506.72,246.77 L506.88,247.80 L507.04,248.84 L507.20,249.89 L507.36,250.94 L507.51,252.00 L507.67,253.06 L507.83,254.13 L507.99,255.20 L508.15,256.27 L508.31,257.35 L508.47,258.42 L508.63,259.50 L508.79,260.58 L508.95,261.65 L509.11,262.73 L509.27,263.80 L509.43,264.87 L509.59,265.93 L509.75,266.99 L509.91,268.05 L510.07,269.10 L510.22,270.15 L510.38,271.19 L510.54,272.22 L510.70,273.24 L510.86,274.25 L511.02,275.26 L511.18,276.25 L511.34,277.24 L511.50,278.21 L511.66,279.17 L511.82,280.12 L511.98,281.05 L512.14,281.97 L512.30,282.88 L512.46,283.77 L512.62,284.65 L512.77,285.51 L512.93,286.35 L513.09,287.18 L513.25,287.99 L513.41,288.78 L513.57,289.55 L513.73,290.30 L513.89,291.04 L514.05,291.75 L514.21,292.44 L514.37,293.12 L514.53,293.77 L514.69,294.40 L514.85,295.00 L515.01,295.59 L515.17,296.15 L515.33,296.69 L515.48,297.20 L515.64,297.69 L515.80,298.16 L515.96,298.60 L516.12,299.02 L516.28,299.41 L516.44,299.78 L516.60,300.12 L516.76,300.43 L516.92,300.72 L517.08,300.99 L517.24,301.22 L517.40,301.43 L517.56,301.62 L517.72,301.78 L517.88,301.91 L518.03,302.01 L518.19,302.09 L518.35,302.14 L518.51,302.16 L518.67,302.15 L518.83,302.12 L518.99,302.05 L519.15,301.95 L519.31,301.82 L519.47,301.66 L519.63,301.47 L519.79,301.25 L519.95,300.99 L520.11,300.71 L520.27,300.40 L520.43,300.05 L520.59,299.68 L520.74,299.28 L520.90,298.85 L521.06,298.39 L521.22,297.90 L521.38,297.38 L521.54,296.83 L521.70,296.26 L521.86,295.66 L522.02,295.03 L522.18,294.37 L522.34,293.69 L522.50,292.98 L522.66,292.25 L522.82,291.49 L522.98,290.71 L523.14,289.90 L523.29,289.07 L523.45,288.22 L523.61,287.35 L523.77,286.45 L523.93,285.53 L524.09,284.60 L524.25,283.64 L524.41,282.66 L524.57,281.66 L524.73,280.65 L524.89,279.61 L525.05,278.57 L525.21,277.50 L525.37,276.42 L525.53,275.32 L525.69,274.21 L525.85,273.09 L526.00,271.95 L526.16,270.80 L526.32,269.64 L526.48,268.47 L526.64,267.29 L526.80,266.10 L526.96,264.91 L527.12,263.70 L527.28,262.49 L527.44,261.27 L527.60,260.04 L527.76,258.82 L527.92,257.58 L528.08,256.35 L528.24,255.11 L528.40,253.87 L528.55,252.63 L528.71,251.39 L528.87,250.16 L529.03,248.92 L529.19,247.68 L529.35,246.45 L529.51,245.23 L529.67,244.00 L529.83,242.79 L529.99,241.58 L530.15,240.37 L530.31,239.18 L530.47,237.99 L530.63,236.82 L530.79,235.65 L530.95,234.49 L531.11,233.35 L531.26,232.22 L531.42,231.10 L531.58,229.99 L531.74,228.90 L531.90,227.82 L532.06,226.76 L532.22,225.72 L532.38,224.69 L532.54,223.68 L532.70,222.69 L532.86,221.72 L533.02,220.77 L533.18,219.84 L533.34,218.93 L533.50,218.04 L533.66,217.17 L533.82,216.33 L533.97,215.51 L534.13,214.71 L534.29,213.93 L534.45,213.18 L534.61,212.46 L534.77,211.76 L534.93,211.09 L535.09,210.44 L535.25,209.82 L535.41,209.23 L535.57,208.66 L535.73,208.13 L535.89,207.62 L536.05,207.14 L536.21,206.69 L536.37,206.26 L536.52,205.87 L536.68,205.51 L536.84,205.17 L537.00,204.87 L537.16,204.60 L537.32,204.36 L537.48,204.14 L537.64,203.96 L537.80,203.81 L537.96,203.69 L538.12,203.60 L538.28,203.55 L538.44,203.52 L538.60,203.53 L538.76,203.56 L538.92,203.64 L539.08,203.74 L539.23,203.87 L539.39,204.04 L539.55,204.24 L539.71,204.47 L539.87,204.73 L540.03,205.03 L540.19,205.35 L540.35,205.71 L540.51,206.10 L540.67,206.52 L540.83,206.97 L540.99,207.45 L541.15,207.96 L541.31,208.50 L541.47,209.07 L541.63,209.67 L541.78,210.30 L541.94,210.96 L542.10,211.64 L542.26,212.35 L542.42,213.10 L542.58,213.86 L542.74,214.66 L542.90,215.48 L543.06,216.33 L543.22,217.20 L543.38,218.09 L543.54,219.01 L543.70,219.96 L543.86,220.93 L544.02,221.92 L544.18,222.93 L544.34,223.96 L544.49,225.02 L544.65,226.10 L544.81,227.19 L544.97,228.31 L545.13,229.44 L545.29,230.59 L545.45,231.76 L545.61,232.94 L545.77,234.15 L545.93,235.36 L546.09,236.59 L546.25,237.84 L546.41,239.10 L546.57,240.37 L546.73,241.65 L546.89,242.95 L547.04,244.25 L547.20,245.57 L547.36,246.89 L547.52,248.23 L547.68,249.57 L547.84,250.91 L548.00,252.26 L548.16,253.62 L548.32,254.99 L548.48,256.35 L548.64,257.72 L548.80,259.09 L548.96,260.47 L549.12,261.84 L549.28,263.21 L549.44,264.59 L549.60,265.96 L549.75,267.33 L549.91,268.69 L550.07,270.06 L550.23,271.42 L550.39,272.77 L550.55,274.11 L550.71,275.45 L550.87,276.79 L551.03,278.11 L551.19,279.43 L551.35,280.73 L551.51,282.03 L551.67,283.31 L551.83,284.58 L551.99,285.84 L552.15,287.09 L552.30,288.32 L552.46,289.53 L552.62,290.74 L552.78,291.92 L552.94,293.09 L553.10,294.24 L553.26,295.37 L553.42,296.49 L553.58,297.58 L553.74,298.66 L553.90,299.72 L554.06,300.75 L554.22,301.76 L554.38,302.75 L554.54,303.72 L554.70,304.67 L554.86,305.59 L555.01,306.48 L555.17,307.35 L555.33,308.20 L555.49,309.02 L555.65,309.82 L555.81,310.58 L555.97,311.33 L556.13,312.04 L556.29,312.72 L556.45,313.38 L556.61,314.01 L556.77,314.61 L556.93,315.18 L557.09,315.72 L557.25,316.23 L557.41,316.71 L557.56,317.16 L557.72,317.58 L557.88,317.97 L558.04,318.33 L558.20,318.65 L558.36,318.95 L558.52,319.21 L558.68,319.44 L558.84,319.64 L559.00,319.81 L559.16,319.94 L559.32,320.04 L559.48,320.12 L559.64,320.15 L559.80,320.16 L559.96,320.13 L560.12,320.06 L560.27,319.97 L560.43,319.83 L560.59,319.66 L560.75,319.46 L560.91,319.22 L561.07,318.95 L561.23,318.64 L561.39,318.30 L561.55,317.93 L561.71,317.52 L561.87,317.08 L562.03,316.61 L562.19,316.10 L562.35,315.56 L562.51,314.99 L562.67,314.39 L562.83,313.75 L562.98,313.09 L563.14,312.39 L563.30,311.66 L563.46,310.91 L563.62,310.13 L563.78,309.31 L563.94,308.47 L564.10,307.60 L564.26,306.71 L564.42,305.78 L564.58,304.84 L564.74,303.86 L564.90,302.87 L565.06,301.84 L565.22,300.80 L565.38,299.73 L565.53,298.64 L565.69,297.53 L565.85,296.40 L566.01,295.25 L566.17,294.08 L566.33,292.89 L566.49,291.68 L566.65,290.46 L566.81,289.22 L566.97,287.96 L567.13,286.69 L567.29,285.41 L567.45,284.11 L567.61,282.80 L567.77,281.48 L567.93,280.15 L568.09,278.81 L568.24,277.47 L568.40,276.11 L568.56,274.75 L568.72,273.38 L568.88,272.00 L569.04,270.62 L569.20,269.24 L569.36,267.85 L569.52,266.47 L569.68,265.08 L569.84,263.69 L570.00,262.31 L570.16,260.92 L570.32,259.54 L570.48,258.16 L570.64,256.78 L570.79,255.41 L570.95,254.05 L571.11,252.69 L571.27,251.35 L571.43,250.01 L571.59,248.68 L571.75,247.36 L571.91,246.05 L572.07,244.75 L572.23,243.47 L572.39,242.20 L572.55,240.94 L572.71,239.70 L572.87,238.48 L573.03,237.27 L573.19,236.08 L573.35,234.91 L573.50,233.76 L573.66,232.63 L573.82,231.52 L573.98,230.43 L574.14,229.36 L574.30,228.32 L574.46,227.29 L574.62,226.30 L574.78,225.32 L574.94,224.38 L575.10,223.45 L575.26,222.56 L575.42,221.69 L575.58,220.85 L575.74,220.03 L575.90,219.25 L576.05,218.50 L576.21,217.77 L576.37,217.07 L576.53,216.41 L576.69,215.77 L576.85,215.17 L577.01,214.60 L577.17,214.06 L577.33,213.55 L577.49,213.08 L577.65,212.64 L577.81,212.23 L577.97,211.86 L578.13,211.52 L578.29,211.21 L578.45,210.94 L578.61,210.70 L578.76,210.50 L578.92,210.33 L579.08,210.19 L579.24,210.10 L579.40,210.03 L579.56,210.00 L579.72,210.01 L579.88,210.05 L580.04,210.12 L580.20,210.23 L580.36,210.36 L580.52,210.54 L580.68,210.74 L580.84,210.98 L581.00,211.25 L581.16,211.56 L581.31,211.90 L581.47,212.26 L581.63,212.67 L581.79,213.10 L581.95,213.56 L582.11,214.06 L582.27,214.59 L582.43,215.14 L582.59,215.73 L582.75,216.35 L582.91,216.99 L583.07,217.67 L583.23,218.37 L583.39,219.11 L583.55,219.87 L583.71,220.65 L583.87,221.47 L584.02,222.30 L584.18,223.17 L584.34,224.06 L584.50,224.97 L584.66,225.91 L584.82,226.87 L584.98,227.85 L585.14,228.86 L585.30,229.88 L585.46,230.93 L585.62,232.00 L585.78,233.08 L585.94,234.19 L586.10,235.31 L586.26,236.45 L586.42,237.60 L586.58,238.77 L586.73,239.96 L586.89,241.15 L587.05,242.37 L587.21,243.59 L587.37,244.83 L587.53,246.07 L587.69,247.33 L587.85,248.59 L588.01,249.87 L588.17,251.15 L588.33,252.43 L588.49,253.73 L588.65,255.02 L588.81,256.33 L588.97,257.63 L589.13,258.94 L589.28,260.25 L589.44,261.56 L589.60,262.87 L589.76,264.17 L589.92,265.48 L590.08,266.78 L590.24,268.08 L590.40,269.38 L590.56,270.66 L590.72,271.95 L590.88,273.22 L591.04,274.49 L591.20,275.75 L591.36,277.00 L591.52,278.24 L591.68,279.47 L591.84,280.68 L591.99,281.89 L592.15,283.08 L592.31,284.25 L592.47,285.41 L592.63,286.55 L592.79,287.68 L592.95,288.79 L593.11,289.88 L593.27,290.96 L593.43,292.01 L593.59,293.04 L593.75,294.05 L593.91,295.04 L594.07,296.01 L594.23,296.96 L594.39,297.88 L594.54,298.78 L594.70,299.65 L594.86,300.50 L595.02,301.32 L595.18,302.11 L595.34,302.88 L595.50,303.62 L595.66,304.34 L595.82,305.02 L595.98,305.68 L596.14,306.31 L596.30,306.90 L596.46,307.47 L596.62,308.01 L596.78,308.51 L596.94,308.99 L597.10,309.43 L597.25,309.84 L597.41,310.22 L597.57,310.57 L597.73,310.89 L597.89,311.17 L598.05,311.42 L598.21,311.64 L598.37,311.82 L598.53,311.97 L598.69,312.09 L598.85,312.17 L599.01,312.22 L599.17,312.24 L599.33,312.22 L599.49,312.16 L599.65,312.07 L599.80,311.93 L599.96,311.76 L600.12,311.54 L600.28,311.29 L600.44,311.00 L600.60,310.68 L600.76,310.31 L600.92,309.91 L601.08,309.47 L601.24,308.99 L601.40,308.48 L601.56,307.93 L601.72,307.35 L601.88,306.72 L602.04,306.07 L602.20,305.38 L602.36,304.65 L602.51,303.89 L602.67,303.10 L602.83,302.27 L602.99,301.42 L603.15,300.53 L603.31,299.61 L603.47,298.65 L603.63,297.67 L603.79,296.66 L603.95,295.62 L604.11,294.56 L604.27,293.46 L604.43,292.34 L604.59,291.19 L604.75,290.02 L604.91,288.83 L605.06,287.61 L605.22,286.36 L605.38,285.10 L605.54,283.81 L605.70,282.51 L605.86,281.18 L606.02,279.84 L606.18,278.47 L606.34,277.10 L606.50,275.70 L606.66,274.29 L606.82,272.87 L606.98,271.43 L607.14,269.98 L607.30,268.52 L607.46,267.05 L607.62,265.57 L607.77,264.08 L607.93,262.58 L608.09,261.08 L608.25,259.57 L608.41,258.05 L608.57,256.54 L608.73,255.02 L608.89,253.49 L609.05,251.97 L609.21,250.45 L609.37,248.93 L609.53,247.41 L609.69,245.90 L609.85,244.39 L610.01,242.88 L610.17,241.38 L610.33,239.89 L610.48,238.41 L610.64,236.93 L610.80,235.47 L610.96,234.01 L611.12,232.57 L611.28,231.14 L611.44,229.73 L611.60,228.33 L611.76,226.94 L611.92,225.58 L612.08,224.23 L612.24,222.89 L612.40,221.58 L612.56,220.29 L612.72,219.02 L612.88,217.77 L613.03,216.54 L613.19,215.33 L613.35,214.15 L613.51,213.00 L613.67,211.87 L613.83,210.76 L613.99,209.69 L614.15,208.64 L614.31,207.62 L614.47,206.63 L614.63,205.67 L614.79,204.74 L614.95,203.84 L615.11,202.97 L615.27,202.13 L615.43,201.33 L615.59,200.56 L615.74,199.82 L615.90,199.12 L616.06,198.45 L616.22,197.82 L616.38,197.22 L616.54,196.66 L616.70,196.13 L616.86,195.64 L617.02,195.19 L617.18,194.78 L617.34,194.40 L617.50,194.06 L617.66,193.76 L617.82,193.50 L617.98,193.27 L618.14,193.08 L618.29,192.94 L618.45,192.83 L618.61,192.75 L618.77,192.72 L618.93,192.73 L619.09,192.78 L619.25,192.87 L619.41,193.00 L619.57,193.18 L619.73,193.39 L619.89,193.65 L620.05,193.95 L620.21,194.29 L620.37,194.67 L620.53,195.09 L620.69,195.55 L620.85,196.05 L621.00,196.59 L621.16,197.17 L621.32,197.79 L621.48,198.45 L621.64,199.15 L621.80,199.89 L621.96,200.66 L622.12,201.47 L622.28,202.32 L622.44,203.20 L622.60,204.12 L622.76,205.07 L622.92,206.06 L623.08,207.08 L623.24,208.14 L623.40,209.23 L623.55,210.35 L623.71,211.50 L623.87,212.68 L624.03,213.90 L624.19,215.14 L624.35,216.41 L624.51,217.71 L624.67,219.03 L624.83,220.38 L624.99,221.76 L625.15,223.16 L625.31,224.59 L625.47,226.03 L625.63,227.51 L625.79,229.00 L625.95,230.51 L626.11,232.04 L626.26,233.59 L626.42,235.16 L626.58,236.74 L626.74,238.34 L626.90,239.96 L627.06,241.58 L627.22,243.23 L627.38,244.88 L627.54,246.54 L627.70,248.22 L627.86,249.90 L628.02,251.59 L628.18,253.29 L628.34,254.99 L628.50,256.70 L628.66,258.42 L628.81,260.13 L628.97,261.85 L629.13,263.57 L629.29,265.28 L629.45,267.00 L629.61,268.72 L629.77,270.43 L629.93,272.13 L630.09,273.84 L630.25,275.53 L630.41,277.22 L630.57,278.90 L630.73,280.57 L630.89,282.23 L631.05,283.88 L631.21,285.52 L631.37,287.14 L631.52,288.75 L631.68,290.35 L631.84,291.93 L632.00,293.49 L632.16,295.03 L632.32,296.56 L632.48,298.06 L632.64,299.55 L632.80,301.01 L632.96,302.45 L633.12,303.87 L633.28,305.26 L633.44,306.63 L633.60,307.97 L633.76,309.29 L633.92,310.58 L634.07,311.84 L634.23,313.07 L634.39,314.27 L634.55,315.45 L634.71,316.59 L634.87,317.70 L635.03,318.78 L635.19,319.82 L635.35,320.83 L635.51,321.81 L635.67,322.75 L635.83,323.66 L635.99,324.53 L636.15,325.36 L636.31,326.16 L636.47,326.92 L636.63,327.65 L636.78,328.33 L636.94,328.98 L637.10,329.58 L637.26,330.15 L637.42,330.68 L637.58,331.17 L637.74,331.62 L637.90,332.03 L638.06,332.39 L638.22,332.72 L638.38,333.00 L638.54,333.25 L638.70,333.45 L638.86,333.61 L639.02,333.73 L639.18,333.80 L639.34,333.84 L639.49,333.83 L639.65,333.78 L639.81,333.68 L639.97,333.55 L640.13,333.36 L640.29,333.14 L640.45,332.87 L640.61,332.55 L640.77,332.20 L640.93,331.80 L641.09,331.36 L641.25,330.87 L641.41,330.35 L641.57,329.78 L641.73,329.17 L641.89,328.52 L642.04,327.83 L642.20,327.10 L642.36,326.33 L642.52,325.52 L642.68,324.68 L642.84,323.79 L643.00,322.87 L643.16,321.91 L643.32,320.91 L643.48,319.88 L643.64,318.81 L643.80,317.71 L643.96,316.58 L644.12,315.41 L644.28,314.21 L644.44,312.98 L644.60,311.72 L644.75,310.43 L644.91,309.11 L645.07,307.76 L645.23,306.38 L645.39,304.98 L645.55,303.55 L645.71,302.10 L645.87,300.62 L646.03,299.13 L646.19,297.60 L646.35,296.06 L646.51,294.50 L646.67,292.92 L646.83,291.33 L646.99,289.71 L647.15,288.08 L647.30,286.44 L647.46,284.78 L647.62,283.11 L647.78,281.43 L647.94,279.73 L648.10,278.03 L648.26,276.32 L648.42,274.60 L648.58,272.88 L648.74,271.15 L648.90,269.42 L649.06,267.69 L649.22,265.95 L649.38,264.21 L649.54,262.47 L649.70,260.74 L649.86,259.01 L650.01,257.28 L650.17,255.56 L650.33,253.84 L650.49,252.13 L650.65,250.43 L650.81,248.73 L650.97,247.05 L651.13,245.38 L651.29,243.72 L651.45,242.08 L651.61,240.45 L651.77,238.83 L651.93,237.24 L652.09,235.66 L652.25,234.10 L652.41,232.56 L652.56,231.03 L652.72,229.54 L652.88,228.06 L653.04,226.61 L653.20,225.18 L653.36,223.78 L653.52,222.40 L653.68,221.05 L653.84,219.73 L654.00,218.44 L654.16,217.18 L654.32,215.95 L654.48,214.75 L654.64,213.58 L654.80,212.45 L654.96,211.35 L655.12,210.28 L655.27,209.25 L655.43,208.25 L655.59,207.29 L655.75,206.37 L655.91,205.48 L656.07,204.64 L656.23,203.83 L656.39,203.06 L656.55,202.33 L656.71,201.64 L656.87,200.99 L657.03,200.38 L657.19,199.81 L657.35,199.29 L657.51,198.80 L657.67,198.36 L657.82,197.96 L657.98,197.61 L658.14,197.29 L658.30,197.02 L658.46,196.80 L658.62,196.61 L658.78,196.48 L658.94,196.38 L659.10,196.33 L659.26,196.32 L659.42,196.36 L659.58,196.44 L659.74,196.57 L659.90,196.74 L660.06,196.95 L660.22,197.21 L660.38,197.52 L660.53,197.86 L660.69,198.26 L660.85,198.69 L661.01,199.17 L661.17,199.69 L661.33,200.25 L661.49,200.85 L661.65,201.50 L661.81,202.19 L661.97,202.91 L662.13,203.68 L662.29,204.49 L662.45,205.34 L662.61,206.22 L662.77,207.14 L662.93,208.10 L663.09,209.10 L663.24,210.13 L663.40,211.20 L663.56,212.30 L663.72,213.44 L663.88,214.61 L664.04,215.81 L664.20,217.04 L664.36,218.30 L664.52,219.60 L664.68,220.92 L664.84,222.27 L665.00,223.64 L665.16,225.04 L665.32,226.47 L665.48,227.92 L665.64,229.39 L665.79,230.89 L665.95,232.41 L666.11,233.94 L666.27,235.50 L666.43,237.07 L666.59,238.66 L666.75,240.27 L666.91,241.89 L667.07,243.52 L667.23,245.17 L667.39,246.82 L667.55,248.49 L667.71,250.17 L667.87,251.85 L668.03,253.54 L668.19,255.23 L668.35,256.93 L668.50,258.64 L668.66,260.34 L668.82,262.05 L668.98,263.75 L669.14,265.46 L669.30,267.16 L669.46,268.86 L669.62,270.55 L669.78,272.23 L669.94,273.91 L670.10,275.58 L670.26,277.24 L670.42,278.89 L670.58,280.53 L670.74,282.16 L670.90,283.77 L671.05,285.36 L671.21,286.94 L671.37,288.50 L671.53,290.04 L671.69,291.57 L671.85,293.07 L672.01,294.55 L672.17,296.01 L672.33,297.44 L672.49,298.85 L672.65,300.24 L672.81,301.60 L672.97,302.93 L673.13,304.23 L673.29,305.50 L673.45,306.74 L673.61,307.96 L673.76,309.14 L673.92,310.28 L674.08,311.40 L674.24,312.47 L674.40,313.52 L674.56,314.53 L674.72,315.50 L674.88,316.44 L675.04,317.33 L675.20,318.19 L675.36,319.01 L675.52,319.79 L675.68,320.54 L675.84,321.24 L676.00,321.90 L676.16,322.51 L676.31,323.09 L676.47,323.62 L676.63,324.12 L676.79,324.56 L676.95,324.97 L677.11,325.33 L677.27,325.65 L677.43,325.92 L677.59,326.15 L677.75,326.34 L677.91,326.48 L678.07,326.58 L678.23,326.63 L678.39,326.64 L678.55,326.60 L678.71,326.51 L678.87,326.37 L679.02,326.19 L679.18,325.96 L679.34,325.68 L679.50,325.35 L679.66,324.98 L679.82,324.55 L679.98,324.09 L680.14,323.57 L680.30,323.01 L680.46,322.40 L680.62,321.75 L680.78,321.05 L680.94,320.31 L681.10,319.53 L681.26,318.70 L681.42,317.83 L681.57,316.91 L681.73,315.96 L681.89,314.96 L682.05,313.92 L682.21,312.84 L682.37,311.73 L682.53,310.57 L682.69,309.38 L682.85,308.15 L683.01,306.88 L683.17,305.58 L683.33,304.25 L683.49,302.88 L683.65,301.48 L683.81,300.04 L683.97,298.58 L684.13,297.08 L684.28,295.56 L684.44,294.01 L684.60,292.43 L684.76,290.83 L684.92,289.20 L685.08,287.54 L685.24,285.87 L685.40,284.17 L685.56,282.45 L685.72,280.71 L685.88,278.96 L686.04,277.19 L686.20,275.40 L686.36,273.59 L686.52,271.78 L686.68,269.95 L686.84,268.10 L686.99,266.25 L687.15,264.39 L687.31,262.52 L687.47,260.65 L687.63,258.77 L687.79,256.89 L687.95,255.00 L688.11,253.11 L688.27,251.22 L688.43,249.33 L688.59,247.45 L688.75,245.56 L688.91,243.69 L689.07,241.81 L689.23,239.95 L689.39,238.09 L689.54,236.24 L689.70,234.40 L689.86,232.58 L690.02,230.76 L690.18,228.97 L690.34,227.18 L690.50,225.41 L690.66,223.66 L690.82,221.93 L690.98,220.22 L691.14,218.53 L691.30,216.86 L691.46,215.22 L691.62,213.60 L691.78,212.00 L691.94,210.43 L692.10,208.89 L692.25,207.38 L692.41,205.89 L692.57,204.44 L692.73,203.01 L692.89,201.62 L693.05,200.26 L693.21,198.94 L693.37,197.65 L693.53,196.40 L693.69,195.18 L693.85,194.00 L694.01,192.86 L694.17,191.75 L694.33,190.69 L694.49,189.66 L694.65,188.68 L694.80,187.74 L694.96,186.84 L695.12,185.98 L695.28,185.17 L695.44,184.39 L695.60,183.67 L695.76,182.99 L695.92,182.35 L696.08,181.76 L696.24,181.21 L696.40,180.71 L696.56,180.26 L696.72,179.85 L696.88,179.50 L697.04,179.18 L697.20,178.92 L697.36,178.70 L697.51,178.54 L697.67,178.42 L697.83,178.34 L697.99,178.32 L698.15,178.34 L698.31,178.42 L698.47,178.54 L698.63,178.72 L698.79,178.94 L698.95,179.21 L699.11,179.54 L699.27,179.91 L699.43,180.33 L699.59,180.80 L699.75,181.31 L699.91,181.88 L700.06,182.49 L700.22,183.15 L700.38,183.86 L700.54,184.61 L700.70,185.41 L700.86,186.25 L701.02,187.14 L701.18,188.07 L701.34,189.05 L701.50,190.07 L701.66,191.13 L701.82,192.23 L701.98,193.38 L702.14,194.56 L702.14,431.50 Z" fill="#a0b4ff"/>
<rect x="48.1" y="57.30" width="1.9" height="408.20" fill="#111"/>
<rect x="742.30" y="57.30" width="1.7" height="408.20" fill="#111"/>
<rect x="45.8" y="461.45" width="2.7" height="1.1" fill="#222"/>
<rect x="45.8" y="447.05" width="2.7" height="1.1" fill="#222"/>
<rect x="45.8" y="432.65" width="2.7" height="1.1" fill="#222"/>
<rect x="45.8" y="418.25" width="2.7" height="1.1" fill="#222"/>
<rect x="42" y="403.85" width="6.5" height="1.1" fill="#222"/>
<text x="35.3" y="408.70" font-size="12" text-anchor="end" fill="#222">0 m</text>
<rect x="45.8" y="389.45" width="2.7" height="1.1" fill="#222"/>
<rect x="45.8" y="375.05" width="2.7" height="1.1" fill="#222"/>
<rect x="45.8" y="360.65" width="2.7" height="1.1" fill="#222"/>
<rect x="45.8" y="346.25" width="2.7" height="1.1" fill="#222"/>
<rect x="42" y="331.85" width="6.5" height="1.1" fill="#222"/>
<text x="35.3" y="336.70" font-size="12" text-anchor="end" fill="#222">1 m</text>
<rect x="45.8" y="317.45" width="2.7" height="1.1" fill="#222"/>
<rect x="45.8" y="303.05" width="2.7" height="1.1" fill="#222"/>
<rect x="45.8" y="288.65" width="2.7" height="1.1" fill="#222"/>
<rect x="45.8" y="274.25" width="2.7" height="1.1" fill="#222"/>
<rect x="42" y="259.85" width="6.5" height="1.1" fill="#222"/>
<text x="35.3" y="264.70" font-size="12" text-anchor="end" fill="#222">2 m</text>
<rect x="45.8" y="245.45" width="2.7" height="1.1" fill="#222"/>
<rect x="45.8" y="231.05" width="2.7" height="1.1" fill="#222"/>
<rect x="45.8" y="216.65" width="2.7" height="1.1" fill="#222"/>
<rect x="45.8" y="202.25" width="2.7" height="1.1" fill="#222"/>
<rect x="42" y="187.85" width="6.5" height="1.1" fill="#222"/>
<text x="35.3" y="192.70" font-size="12" text-anchor="end" fill="#222">3 m</text>
<rect x="45.8" y="173.45" width="2.7" height="1.1" fill="#222"/>
<rect x="45.8" y="159.05" width="2.7" height="1.1" fill="#222"/>
<rect x="45.8" y="144.65" width="2.7" height="1.1" fill="#222"/>
<rect x="45.8" y="130.25" width="2.7" height="1.1" fill="#222"/>
<rect x="42" y="115.85" width="6.5" height="1.1" fill="#222"/>
<text x="35.3" y="120.70" font-size="12" text-anchor="end" fill="#222">4 m</text>
<rect x="45.8" y="101.45" width="2.7" height="1.1" fill="#222"/>
<rect x="45.8" y="87.05" width="2.7" height="1.1" fill="#222"/>
<rect x="45.8" y="72.65" width="2.7" height="1.1" fill="#222"/>
<rect x="45.8" y="58.25" width="2.7" height="1.1" fill="#222"/>
<rect x="743.5" y="458.71" width="3.2" height="1.1" fill="#222"/>
<rect x="743.5" y="447.74" width="6.3" height="1.1" fill="#222"/>
<text x="780.8" y="452.59" font-size="12" text-anchor="end" fill="#222">–2 ft</text>
<rect x="743.5" y="436.77" width="3.2" height="1.1" fill="#222"/>
<rect x="743.5" y="425.80" width="6.3" height="1.1" fill="#222"/>
<text x="780.8" y="430.65" font-size="12" text-anchor="end" fill="#222">–1 ft</text>
<rect x="743.5" y="414.82" width="3.2" height="1.1" fill="#222"/>
<rect x="743.5" y="403.85" width="6.3" height="1.1" fill="#222"/>
<text x="780.8" y="408.70" font-size="12" text-anchor="end" fill="#222">0 ft</text>
<rect x="743.5" y="392.88" width="3.2" height="1.1" fill="#222"/>
<rect x="743.5" y="381.90" width="6.3" height="1.1" fill="#222"/>
<text x="780.8" y="386.75" font-size="12" text-anchor="end" fill="#222">1 ft</text>
<rect x="743.5" y="370.93" width="3.2" height="1.1" fill="#222"/>
<rect x="743.5" y="359.96" width="6.3" height="1.1" fill="#222"/>
<text x="780.8" y="364.81" font-size="12" text-anchor="end" fill="#222">2 ft</text>
<rect x="743.5" y="348.99" width="3.2" height="1.1" fill="#222"/>
<rect x="743.5" y="338.01" width="6.3" height="1.1" fill="#222"/>
<text x="780.8" y="342.86" font-size="12" text-anchor="end" fill="#222">3 ft</text>
<rect x="743.5" y="327.04" width="3.2" height="1.1" fill="#222"/>
<rect x="743.5" y="316.07" width="6.3" height="1.1" fill="#222"/>
<text x="780.8" y="320.92" font-size="12" text-anchor="end" fill="#222">4 ft</text>
<rect x="743.5" y="305.09" width="3.2" height="1.1" fill="#222"/>
<rect x="743.5" y="294.12" width="6.3" height="1.1" fill="#222"/>
<text x="780.8" y="298.97" font-size="12" text-anchor="end" fill="#222">5 ft</text>
<rect x="743.5" y="283.15" width="3.2" height="1.1" fill="#222"/>
<rect x="743.5" y="272.18" width="6.3" height="1.1" fill="#222"/>
<text x="780.8" y="277.03" font-size="12" text-anchor="end" fill="#222">6 ft</text>
<rect x="743.5" y="261.20" width="3.2" height="1.1" fill="#222"/>
<rect x="743.5" y="250.23" width="6.3" height="1.1" fill="#222"/>
<text x="780.8" y="255.08" font-size="12" text-anchor="end" fill="#222">7 ft</text>
<rect x="743.5" y="239.26" width="3.2" height="1.1" fill="#222"/>
<rect x="743.5" y="228.29" width="6.3" height="1.1" fill="#222"/>
<text x="780.8" y="233.14" font-size="12" text-anchor="end" fill="#222">8 ft</text>
<rect x="743.5" y="217.31" width="3.2" height="1.1" fill="#222"/>
<rect x="743.5" y="206.34" width="6.3" height="1.1" fill="#222"/>
<text x="780.8" y="211.19" font-size="12" text-anchor="end" fill="#222">9 ft</text>
<rect x="743.5" y="195.37" width="3.2" height="1.1" fill="#222"/>
<rect x="743.5" y="184.39" width="6.3" height="1.1" fill="#222"/>
<text x="780.8" y="189.24" font-size="12" text-anchor="end" fill="#222">10 ft</text>
<rect x="743.5" y="173.42" width="3.2" height="1.1" fill="#222"/>
<rect x="743.5" y="162.45" width="6.3" height="1.1" fill="#222"/>
<text x="780.8" y="167.30" font-size="12" text-anchor="end" fill="#222">11 ft</text>
<rect x="743.5" y="151.48" width="3.2" height="1.1" fill="#222"/>
<rect x="743.5" y="140.50" width="6.3" height="1.1" fill="#222"/>
<text x="780.8" y="145.35" font-size="12" text-anchor="end" fill="#222">12 ft</text>
<rect x="743.5" y="129.53" width="3.2" height="1.1" fill="#222"/>
<rect x="743.5" y="118.56" width="6.3" height="1.1" fill="#222"/>
<text x="780.8" y="123.41" font-size="12" text-anchor="end" fill="#222">13 ft</text>
<rect x="743.5" y="107.58" width="3.2" height="1.1" fill="#222"/>
<rect x="743.5" y="96.61" width="6.3" height="1.1" fill="#222"/>
<text x="780.8" y="101.46" font-size="12" text-anchor="end" fill="#222">14 ft</text>
<rect x="743.5" y="85.64" width="3.2" height="1.1" fill="#222"/>
<rect x="743.5" y="74.67" width="6.3" height="1.1" fill="#222"/>
<text x="780.8" y="79.52" font-size="12" text-anchor="end" fill="#222">15 ft</text>
<rect x="743.5" y="63.69" width="3.2" height="1.1" fill="#222"/>
<text x="99.25" y="88.12" font-size="9.30" text-anchor="middle" text-rendering="geometricPrecision" fill="#222" stroke="#222" stroke-width="0.2">7:41 pm</text>
<text x="99.25" y="96.32" font-size="9.30" text-anchor="middle" text-rendering="geometricPrecision" fill="#222" stroke="#222" stroke-width="0.2">13.4 ft</text>
<text x="99.25" y="106.42" font-size="9.30" text-anchor="middle" text-rendering="geometricPrecision" fill="#222" stroke="#222" stroke-width="0.2">4.09 m</text>
<text x="118.48" y="415.42" font-size="9.30" text-anchor="middle" text-rendering="geometricPrecision" fill="#222" stroke="#222" stroke-width="0.2">–0.01 m</text>
<text x="118.48" y="425.72" font-size="9.30" text-anchor="middle" text-rendering="geometricPrecision" fill="#222" stroke="#222" stroke-width="0.2">–0.0 ft</text>
<text x="118.48" y="434.32" font-size="9.30" text-anchor="middle" text-rendering="geometricPrecision" fill="#222" stroke="#222" stroke-width="0.2">1:43 am</text>
<text x="138.78" y="102.52" font-size="9.30" text-anchor="middle" text-rendering="geometricPrecision" fill="#222" stroke="#222" stroke-width="0.2">8:05 am</text>
<text x="138.78" y="110.72" font-size="9.30" text-anchor="middle" text-rendering="geometricPrecision" fill="#222" stroke="#222" stroke-width="0.2">12.8 ft</text>
<text x="138.78" y="120.82" font-size="9.30" text-anchor="middle" text-rendering="geometricPrecision" fill="#222" stroke="#222" stroke-width="0.2">3.89 m</text>
<text x="157.85" y="402.46" font-size="9.30" text-anchor="middle" text-rendering="geometricPrecision" fill="#222" stroke="#222" stroke-width="0.2">0.17 m</text>
<text x="157.85" y="412.76" font-size="9.30" text-anchor="middle" text-rendering="geometricPrecision" fill="#222" stroke="#222" stroke-width="0.2">0.6 ft</text>
<text x="157.85" y="421.36" font-size="9.30" text-anchor="middle" text-rendering="geometricPrecision" fill="#222" stroke="#222" stroke-width="0.2">2:04 pm</text>
<text x="178.20" y="111.16" font-size="9.30" text-anchor="middle" text-rendering="geometricPrecision" fill="#222" stroke="#222" stroke-width="0.2">8:27 pm</text>
<text x="178.20" y="119.36" font-size="9.30" text-anchor="middle" text-rendering="geometricPrecision" fill="#222" stroke="#222" stroke-width="0.2">12.4 ft</text>
<text x="178.20" y="129.46" font-size="9.30" text-anchor="middle" text-rendering="geometricPrecision" fill="#222" stroke="#222" stroke-width="0.2">3.77 m</text>
<text x="197.28" y="390.22" font-size="9.30" text-anchor="middle" text-rendering="geometricPrecision" fill="#222" stroke="#222" stroke-width="0.2">0.34 m</text>
<text x="197.28" y="400.52" font-size="9.30" text-anchor="middle" text-rendering="geometricPrecision" fill="#222" stroke="#222" stroke-width="0.2">1.1 ft</text>
<text x="197.28" y="409.12" font-size="9.30" text-anchor="middle" text-rendering="geometricPrecision" fill="#222" stroke="#222" stroke-width="0.2">2:26 am</text>
<text x="217.68" y="122.68" font-size="9.30" text-anchor="middle" text-rendering="geometricPrecision" fill="#222" stroke="#222" stroke-width="0.2">8:50 am</text>
<text x="217.68" y="130.88" font-size="9.30" text-anchor="middle" text-rendering="geometricPrecision" fill="#222" stroke="#222" stroke-width="0.2">11.8 ft</text>
<text x="217.68" y="140.98" font-size="9.30" text-anchor="middle" text-rendering="geometricPrecision" fill="#222" stroke="#222" stroke-width="0.2">3.61 m</text>
<text x="236.81" y="380.14" font-size="9.30" text-anchor="middle" text-rendering="geometricPrecision" fill="#222" stroke="#222" stroke-width="0.2">0.48 m</text>
<text x="236.81" y="390.44" font-size="9.30" text-anchor="middle" text-rendering="geometricPrecision" fill="#222" stroke="#222" stroke-width="0.2">1.6 ft</text>
<text x="236.81" y="399.04" font-size="9.30" text-anchor="middle" text-rendering="geometricPrecision" fill="#222" stroke="#222" stroke-width="0.2">2:50 pm</text>
<text x="257.32" y="138.52" font-size="9.30" text-anchor="middle" text-rendering="geometricPrecision" fill="#222" stroke="#222" stroke-width="0.2">9:16 pm</text>
<text x="257.32" y="146.72" font-size="9.30" text-anchor="middle" text-rendering="geometricPrecision" fill="#222" stroke="#222" stroke-width="0.2">11.1 ft</text>
<text x="257.32" y="156.82" font-size="9.30" text-anchor="middle" text-rendering="geometricPrecision" fill="#222" stroke="#222" stroke-width="0.2">3.39 m</text>
<text x="276.23" y="362.86" font-size="9.30" text-anchor="middle" text-rendering="geometricPrecision" fill="#222" stroke="#222" stroke-width="0.2">0.72 m</text>
<text x="276.23" y="373.16" font-size="9.30" text-anchor="middle" text-rendering="geometricPrecision" fill="#222" stroke="#222" stroke-width="0.2">2.4 ft</text>
<text x="276.23" y="381.76" font-size="9.30" text-anchor="middle" text-rendering="geometricPrecision" fill="#222" stroke="#222" stroke-width="0.2">3:12 am</text>
<text x="296.85" y="145.72" font-size="9.30" text-anchor="middle" text-rendering="geometricPrecision" fill="#222" stroke="#222" stroke-width="0.2">9:40 am</text>
<text x="296.85" y="153.92" font-size="9.30" text-anchor="middle" text-rendering="geometricPrecision" fill="#222" stroke="#222" stroke-width="0.2">10.8 ft</text>
<text x="296.85" y="164.02" font-size="9.30" text-anchor="middle" text-rendering="geometricPrecision" fill="#222" stroke="#222" stroke-width="0.2">3.29 m</text>
<text x="316.19" y="355.66" font-size="9.30" text-anchor="middle" text-rendering="geometricPrecision" fill="#222" stroke="#222" stroke-width="0.2">0.82 m</text>
<text x="316.19" y="365.96" font-size="9.30" text-anchor="middle" text-rendering="geometricPrecision" fill="#222" stroke="#222" stroke-width="0.2">2.7 ft</text>
<text x="316.19" y="374.56" font-size="9.30" text-anchor="middle" text-rendering="geometricPrecision" fill="#222" stroke="#222" stroke-width="0.2">3:44 pm</text>
<text x="336.91" y="165.16" font-size="9.30" text-anchor="middle" text-rendering="geometricPrecision" fill="#222" stroke="#222" stroke-width="0.2">10:14 pm</text>
<text x="336.91" y="173.36" font-size="9.30" text-anchor="middle" text-rendering="geometricPrecision" fill="#222" stroke="#222" stroke-width="0.2">9.9 ft</text>
<text x="336.91" y="183.46" font-size="9.30" text-anchor="middle" text-rendering="geometricPrecision" fill="#222" stroke="#222" stroke-width="0.2">3.02 m</text>
<text x="355.72" y="335.50" font-size="9.30" text-anchor="middle" text-rendering="geometricPrecision" fill="#222" stroke="#222" stroke-width="0.2">1.10 m</text>
<text x="355.72" y="345.80" font-size="9.30" text-anchor="middle" text-rendering="geometricPrecision" fill="#222" stroke="#222" stroke-width="0.2">3.6 ft</text>
<text x="355.72" y="354.40" font-size="9.30" text-anchor="middle" text-rendering="geometricPrecision" fill="#222" stroke="#222" stroke-width="0.2">4:08 am</text>
<text x="376.54" y="167.32" font-size="9.30" text-anchor="middle" text-rendering="geometricPrecision" fill="#222" stroke="#222" stroke-width="0.2">10:40 am</text>
<text x="376.54" y="175.52" font-size="9.30" text-anchor="middle" text-rendering="geometricPrecision" fill="#222" stroke="#222" stroke-width="0.2">9.8 ft</text>
<text x="376.54" y="185.62" font-size="9.30" text-anchor="middle" text-rendering="geometricPrecision" fill="#222" stroke="#222" stroke-width="0.2">2.99 m</text>
<text x="396.52" y="334.06" font-size="9.30" text-anchor="middle" text-rendering="geometricPrecision" fill="#222" stroke="#222" stroke-width="0.2">1.12 m</text>
<text x="396.52" y="344.36" font-size="9.30" text-anchor="middle" text-rendering="geometricPrecision" fill="#222" stroke="#222" stroke-width="0.2">3.7 ft</text>
<text x="396.52" y="352.96" font-size="9.30" text-anchor="middle" text-rendering="geometricPrecision" fill="#222" stroke="#222" stroke-width="0.2">4:56 pm</text>
<text x="417.24" y="186.76" font-size="9.30" text-anchor="middle" text-rendering="geometricPrecision" fill="#222" stroke="#222" stroke-width="0.2">11:26 pm</text>
<text x="417.24" y="194.96" font-size="9.30" text-anchor="middle" text-rendering="geometricPrecision" fill="#222" stroke="#222" stroke-width="0.2">8.9 ft</text>
<text x="417.24" y="205.06" font-size="9.30" text-anchor="middle" text-rendering="geometricPrecision" fill="#222" stroke="#222" stroke-width="0.2">2.72 m</text>
<text x="436.53" y="316.06" font-size="9.30" text-anchor="middle" text-rendering="geometricPrecision" fill="#222" stroke="#222" stroke-width="0.2">1.37 m</text>
<text x="436.53" y="326.36" font-size="9.30" text-anchor="middle" text-rendering="geometricPrecision" fill="#222" stroke="#222" stroke-width="0.2">4.5 ft</text>
<text x="436.53" y="334.96" font-size="9.30" text-anchor="middle" text-rendering="geometricPrecision" fill="#222" stroke="#222" stroke-width="0.2">5:29 am</text>
<text x="457.25" y="181.00" font-size="9.30" text-anchor="middle" text-rendering="geometricPrecision" fill="#222" stroke="#222" stroke-width="0.2">11:59 am</text>
<text x="457.25" y="189.20" font-size="9.30" text-anchor="middle" text-rendering="geometricPrecision" fill="#222" stroke="#222" stroke-width="0.2">9.2 ft</text>
<text x="457.25" y="199.30" font-size="9.30" text-anchor="middle" text-rendering="geometricPrecision" fill="#222" stroke="#222" stroke-width="0.2">2.80 m</text>
<text x="478.45" y="323.98" font-size="9.30" text-anchor="middle" text-rendering="geometricPrecision" fill="#222" stroke="#222" stroke-width="0.2">1.26 m</text>
<text x="478.45" y="334.28" font-size="9.30" text-anchor="middle" text-rendering="geometricPrecision" fill="#222" stroke="#222" stroke-width="0.2">4.1 ft</text>
<text x="478.45" y="342.88" font-size="9.30" text-anchor="middle" text-rendering="geometricPrecision" fill="#222" stroke="#222" stroke-width="0.2">6:38 pm</text>
<text x="498.64" y="194.68" font-size="9.30" text-anchor="middle" text-rendering="geometricPrecision" fill="#222" stroke="#222" stroke-width="0.2">12:58 am</text>
<text x="498.64" y="202.88" font-size="9.30" text-anchor="middle" text-rendering="geometricPrecision" fill="#222" stroke="#222" stroke-width="0.2">8.6 ft</text>
<text x="498.64" y="212.98" font-size="9.30" text-anchor="middle" text-rendering="geometricPrecision" fill="#222" stroke="#222" stroke-width="0.2">2.61 m</text>
<text x="518.57" y="312.46" font-size="9.30" text-anchor="middle" text-rendering="geometricPrecision" fill="#222" stroke="#222" stroke-width="0.2">1.42 m</text>
<text x="518.57" y="322.76" font-size="9.30" text-anchor="middle" text-rendering="geometricPrecision" fill="#222" stroke="#222" stroke-width="0.2">4.7 ft</text>
<text x="518.57" y="331.36" font-size="9.30" text-anchor="middle" text-rendering="geometricPrecision" fill="#222" stroke="#222" stroke-width="0.2">7:13 am</text>
<text x="538.49" y="181.72" font-size="9.30" text-anchor="middle" text-rendering="geometricPrecision" fill="#222" stroke="#222" stroke-width="0.2">1:28 pm</text>
<text x="538.49" y="189.92" font-size="9.30" text-anchor="middle" text-rendering="geometricPrecision" fill="#222" stroke="#222" stroke-width="0.2">9.2 ft</text>
<text x="538.49" y="200.02" font-size="9.30" text-anchor="middle" text-rendering="geometricPrecision" fill="#222" stroke="#222" stroke-width="0.2">2.79 m</text>
<text x="559.74" y="330.46" font-size="9.30" text-anchor="middle" text-rendering="geometricPrecision" fill="#222" stroke="#222" stroke-width="0.2">1.17 m</text>
<text x="559.74" y="340.76" font-size="9.30" text-anchor="middle" text-rendering="geometricPrecision" fill="#222" stroke="#222" stroke-width="0.2">3.8 ft</text>
<text x="559.74" y="349.36" font-size="9.30" text-anchor="middle" text-rendering="geometricPrecision" fill="#222" stroke="#222" stroke-width="0.2">8:08 pm</text>
<text x="579.61" y="188.20" font-size="9.30" text-anchor="middle" text-rendering="geometricPrecision" fill="#222" stroke="#222" stroke-width="0.2">2:22 am</text>
<text x="579.61" y="196.40" font-size="9.30" text-anchor="middle" text-rendering="geometricPrecision" fill="#222" stroke="#222" stroke-width="0.2">8.9 ft</text>
<text x="579.61" y="206.50" font-size="9.30" text-anchor="middle" text-rendering="geometricPrecision" fill="#222" stroke="#222" stroke-width="0.2">2.70 m</text>
<text x="599.17" y="322.54" font-size="9.30" text-anchor="middle" text-rendering="geometricPrecision" fill="#222" stroke="#222" stroke-width="0.2">1.28 m</text>
<text x="599.17" y="332.84" font-size="9.30" text-anchor="middle" text-rendering="geometricPrecision" fill="#222" stroke="#222" stroke-width="0.2">4.2 ft</text>
<text x="599.17" y="341.44" font-size="9.30" text-anchor="middle" text-rendering="geometricPrecision" fill="#222" stroke="#222" stroke-width="0.2">8:30 am</text>
<text x="618.83" y="170.92" font-size="9.30" text-anchor="middle" text-rendering="geometricPrecision" fill="#222" stroke="#222" stroke-width="0.2">2:40 pm</text>
<text x="618.83" y="179.12" font-size="9.30" text-anchor="middle" text-rendering="geometricPrecision" fill="#222" stroke="#222" stroke-width="0.2">9.6 ft</text>
<text x="618.83" y="189.22" font-size="9.30" text-anchor="middle" text-rendering="geometricPrecision" fill="#222" stroke="#222" stroke-width="0.2">2.94 m</text>
<text x="639.39" y="344.14" font-size="9.30" text-anchor="middle" text-rendering="geometricPrecision" fill="#222" stroke="#222" stroke-width="0.2">0.98 m</text>
<text x="639.39" y="354.44" font-size="9.30" text-anchor="middle" text-rendering="geometricPrecision" fill="#222" stroke="#222" stroke-width="0.2">3.2 ft</text>
<text x="639.39" y="363.04" font-size="9.30" text-anchor="middle" text-rendering="geometricPrecision" fill="#222" stroke="#222" stroke-width="0.2">9:07 pm</text>
<text x="659.21" y="174.52" font-size="9.30" text-anchor="middle" text-rendering="geometricPrecision" fill="#222" stroke="#222" stroke-width="0.2">3:20 am</text>
<text x="659.21" y="182.72" font-size="9.30" text-anchor="middle" text-rendering="geometricPrecision" fill="#222" stroke="#222" stroke-width="0.2">9.5 ft</text>
<text x="659.21" y="192.82" font-size="9.30" text-anchor="middle" text-rendering="geometricPrecision" fill="#222" stroke="#222" stroke-width="0.2">2.89 m</text>
<text x="678.33" y="336.94" font-size="9.30" text-anchor="middle" text-rendering="geometricPrecision" fill="#222" stroke="#222" stroke-width="0.2">1.08 m</text>
<text x="678.33" y="347.24" font-size="9.30" text-anchor="middle" text-rendering="geometricPrecision" fill="#222" stroke="#222" stroke-width="0.2">3.5 ft</text>
<text x="678.33" y="355.84" font-size="9.30" text-anchor="middle" text-rendering="geometricPrecision" fill="#222" stroke="#222" stroke-width="0.2">9:20 am</text>
<text x="697.99" y="156.52" font-size="9.30" text-anchor="middle" text-rendering="geometricPrecision" fill="#222" stroke="#222" stroke-width="0.2">3:30 pm</text>
<text x="697.99" y="164.72" font-size="9.30" text-anchor="middle" text-rendering="geometricPrecision" fill="#222" stroke="#222" stroke-width="0.2">10.3 ft</text>
<text x="697.99" y="174.82" font-size="9.30" text-anchor="middle" text-rendering="geometricPrecision" fill="#222" stroke="#222" stroke-width="0.2">3.14 m</text>
<circle cx="99.25" cy="109.92" r="2" fill="#000"/>
<circle cx="118.48" cy="405.12" r="2" fill="#000"/>
<circle cx="138.78" cy="124.32" r="2" fill="#000"/>
<circle cx="157.85" cy="392.16" r="2" fill="#000"/>
<circle cx="178.20" cy="132.96" r="2" fill="#000"/>
<circle cx="197.28" cy="379.92" r="2" fill="#000"/>
<circle cx="217.68" cy="144.48" r="2" fill="#000"/>
<circle cx="236.81" cy="369.84" r="2" fill="#000"/>
<circle cx="257.32" cy="160.32" r="2" fill="#000"/>
<circle cx="276.23" cy="352.56" r="2" fill="#000"/>
<circle cx="296.85" cy="167.52" r="2" fill="#000"/>
<circle cx="316.19" cy="345.36" r="2" fill="#000"/>
<circle cx="336.91" cy="186.96" r="2" fill="#000"/>
<circle cx="355.72" cy="325.20" r="2" fill="#000"/>
<circle cx="376.54" cy="189.12" r="2" fill="#000"/>
<circle cx="396.52" cy="323.76" r="2" fill="#000"/>
<circle cx="417.24" cy="208.56" r="2" fill="#000"/>
<circle cx="436.53" cy="305.76" r="2" fill="#000"/>
<circle cx="457.25" cy="202.80" r="2" fill="#000"/>
<circle cx="478.45" cy="313.68" r="2" fill="#000"/>
<circle cx="498.64" cy="216.48" r="2" fill="#000"/>
<circle cx="518.57" cy="302.16" r="2" fill="#000"/>
<circle cx="538.49" cy="203.52" r="2" fill="#000"/>
<circle cx="559.74" cy="320.16" r="2" fill="#000"/>
<circle cx="579.61" cy="210.00" r="2" fill="#000"/>
<circle cx="599.17" cy="312.24" r="2" fill="#000"/>
<circle cx="618.83" cy="192.72" r="2" fill="#000"/>
<circle cx="639.39" cy="333.84" r="2" fill="#000"/>
<circle cx="659.21" cy="196.32" r="2" fill="#000"/>
<circle cx="678.33" cy="326.64" r="2" fill="#000"/>
<circle cx="697.99" cy="178.32" r="2" fill="#000"/>
<circle cx="396.25" cy="324.9" r="5.0" fill="#e2dc32" fill-opacity="0.88" stroke="#6a4a12" stroke-width="1" stroke-dasharray="1.3,1.1"/>
<circle cx="396.52" cy="323.76" r="2" fill="#000"/>
<text x="74.75" y="41.6" font-size="11.1" text-anchor="middle" fill="#ff0000">Sat</text>
<text x="74.75" y="53.9" font-size="11.1" text-anchor="middle" fill="#ff0000">11–Sep</text>
<text x="151.34" y="41.6" font-size="11.1" text-anchor="middle" fill="#ff0000">Sun</text>
<text x="151.34" y="53.9" font-size="11.1" text-anchor="middle" fill="#ff0000">12–Sep</text>
<text x="227.91" y="41.6" font-size="11.1" text-anchor="middle" fill="#ff0000">Mon</text>
<text x="227.91" y="53.9" font-size="11.1" text-anchor="middle" fill="#ff0000">13–Sep</text>
<text x="304.50" y="41.6" font-size="11.1" text-anchor="middle" fill="#ff0000">Tue</text>
<text x="304.50" y="53.9" font-size="11.1" text-anchor="middle" fill="#ff0000">14–Sep</text>
<text x="381.07" y="41.6" font-size="11.1" text-anchor="middle" fill="#ff0000">Wed</text>
<text x="381.07" y="53.9" font-size="11.1" text-anchor="middle" fill="#ff0000">15–Sep</text>
<text x="457.66" y="41.6" font-size="11.1" text-anchor="middle" fill="#ff0000">Thu</text>
<text x="457.66" y="53.9" font-size="11.1" text-anchor="middle" fill="#ff0000">16–Sep</text>
<text x="534.24" y="41.6" font-size="11.1" text-anchor="middle" fill="#ff0000">Fri</text>
<text x="534.24" y="53.9" font-size="11.1" text-anchor="middle" fill="#ff0000">17–Sep</text>
<text x="610.82" y="41.6" font-size="11.1" text-anchor="middle" fill="#ff0000">Sat</text>
<text x="610.82" y="53.9" font-size="11.1" text-anchor="middle" fill="#ff0000">18–Sep</text>
<text x="687.39" y="41.6" font-size="11.1" text-anchor="middle" fill="#ff0000">Sun</text>
<text x="687.39" y="53.9" font-size="11.1" text-anchor="middle" fill="#ff0000">19–Sep</text>
<text x="396.5" y="14.2" font-size="16" letter-spacing="0.3" text-anchor="middle" fill="#111">Coumeenole: at low&#160; ordinary tide at 1.1m (3.7ft)</text>
<text x="396.4" y="28.8" font-size="10.95" font-weight="bold" text-anchor="middle" fill="#111">Image captured 8 minutes before low water. Times are IST (UTC +1.0hrs)</text>
<text x="45.6" y="480.1" font-size="10.9" text-anchor="end" fill="#222">Sunrise</text>
<text x="746.8" y="480.1" font-size="10.9" fill="#222">Sunrise</text>
<text x="45.6" y="493.7" font-size="10.9" text-anchor="end" fill="#222">Sunset</text>
<text x="746.8" y="493.7" font-size="10.9" fill="#222">Sunset</text>
<text x="45.6" y="507.0" font-size="10.9" text-anchor="end" fill="#222">Moonrise</text>
<text x="746.8" y="507.0" font-size="10.9" fill="#222">Moonrise</text>
<text x="45.6" y="520.7" font-size="10.9" text-anchor="end" fill="#222">Moonset</text>
<text x="746.8" y="520.7" font-size="10.9" fill="#222">Moonset</text>
<polygon points="100.63,482.20 102.63,486.45 107.29,487.04 103.86,490.25 104.74,494.86 100.63,492.60 96.52,494.86 97.40,490.25 93.97,487.04 98.63,486.45" fill="#6e5c16" stroke="#5a4c12" stroke-width="0.4"/><circle cx="100.63" cy="489.20" r="4.1" fill="#c2714c" stroke="#8a6a1c" stroke-width="0.7"/>
<text x="107.73" y="493.20" font-size="9.30" text-anchor="start" text-rendering="geometricPrecision" fill="#222" stroke="#222" stroke-width="0.2">8:07pm</text>
<polygon points="135.86,468.60 137.86,472.85 142.51,473.44 139.09,476.65 139.97,481.26 135.86,479.00 131.74,481.26 132.62,476.65 129.20,473.44 133.86,472.85" fill="#6e5c16" stroke="#5a4c12" stroke-width="0.4"/><circle cx="135.86" cy="475.60" r="4.1" fill="#d6d232" stroke="#8a6a1c" stroke-width="0.7"/>
<text x="142.96" y="479.60" font-size="9.30" text-anchor="start" text-rendering="geometricPrecision" fill="#222" stroke="#222" stroke-width="0.2">7:10am</text>
<polygon points="176.98,482.20 178.98,486.45 183.64,487.04 180.21,490.25 181.10,494.86 176.98,492.60 172.87,494.86 173.75,490.25 170.32,487.04 174.98,486.45" fill="#6e5c16" stroke="#5a4c12" stroke-width="0.4"/><circle cx="176.98" cy="489.20" r="4.1" fill="#c2714c" stroke="#8a6a1c" stroke-width="0.7"/>
<text x="184.08" y="493.20" font-size="9.30" text-anchor="start" text-rendering="geometricPrecision" fill="#222" stroke="#222" stroke-width="0.2">8:04pm</text>
<polygon points="212.47,468.60 214.47,472.85 219.13,473.44 215.71,476.65 216.59,481.26 212.47,479.00 208.36,481.26 209.24,476.65 205.82,473.44 210.47,472.85" fill="#6e5c16" stroke="#5a4c12" stroke-width="0.4"/><circle cx="212.47" cy="475.60" r="4.1" fill="#d6d232" stroke="#8a6a1c" stroke-width="0.7"/>
<text x="219.57" y="479.60" font-size="9.30" text-anchor="start" text-rendering="geometricPrecision" fill="#222" stroke="#222" stroke-width="0.2">7:12am</text>
<polygon points="253.38,482.20 255.38,486.45 260.04,487.04 256.62,490.25 257.50,494.86 253.38,492.60 249.27,494.86 250.15,490.25 246.73,487.04 251.39,486.45" fill="#6e5c16" stroke="#5a4c12" stroke-width="0.4"/><circle cx="253.38" cy="489.20" r="4.1" fill="#c2714c" stroke="#8a6a1c" stroke-width="0.7"/>
<text x="260.48" y="493.20" font-size="9.30" text-anchor="start" text-rendering="geometricPrecision" fill="#222" stroke="#222" stroke-width="0.2">8:02pm</text>
<polygon points="289.04,468.60 291.03,472.85 295.69,473.44 292.27,476.65 293.15,481.26 289.04,479.00 284.92,481.26 285.80,476.65 282.38,473.44 287.04,472.85" fill="#6e5c16" stroke="#5a4c12" stroke-width="0.4"/><circle cx="289.04" cy="475.60" r="4.1" fill="#d6d232" stroke="#8a6a1c" stroke-width="0.7"/>
<text x="296.14" y="479.60" font-size="9.30" text-anchor="start" text-rendering="geometricPrecision" fill="#222" stroke="#222" stroke-width="0.2">7:13am</text>
<polygon points="329.74,482.20 331.73,486.45 336.39,487.04 332.97,490.25 333.85,494.86 329.74,492.60 325.62,494.86 326.50,490.25 323.08,487.04 327.74,486.45" fill="#6e5c16" stroke="#5a4c12" stroke-width="0.4"/><circle cx="329.74" cy="489.20" r="4.1" fill="#c2714c" stroke="#8a6a1c" stroke-width="0.7"/>
<text x="336.84" y="493.20" font-size="9.30" text-anchor="start" text-rendering="geometricPrecision" fill="#222" stroke="#222" stroke-width="0.2">7:59pm</text>
<polygon points="365.65,468.60 367.65,472.85 372.31,473.44 368.89,476.65 369.77,481.26 365.65,479.00 361.54,481.26 362.42,476.65 359.00,473.44 363.65,472.85" fill="#6e5c16" stroke="#5a4c12" stroke-width="0.4"/><circle cx="365.65" cy="475.60" r="4.1" fill="#d6d232" stroke="#8a6a1c" stroke-width="0.7"/>
<text x="372.75" y="479.60" font-size="9.30" text-anchor="start" text-rendering="geometricPrecision" fill="#222" stroke="#222" stroke-width="0.2">7:15am</text>
<polygon points="406.14,482.20 408.14,486.45 412.80,487.04 409.37,490.25 410.25,494.86 406.14,492.60 402.02,494.86 402.91,490.25 399.48,487.04 404.14,486.45" fill="#6e5c16" stroke="#5a4c12" stroke-width="0.4"/><circle cx="406.14" cy="489.20" r="4.1" fill="#c2714c" stroke="#8a6a1c" stroke-width="0.7"/>
<text x="413.24" y="493.20" font-size="9.30" text-anchor="start" text-rendering="geometricPrecision" fill="#222" stroke="#222" stroke-width="0.2">7:57pm</text>
<polygon points="442.27,468.60 444.27,472.85 448.93,473.44 445.50,476.65 446.38,481.26 442.27,479.00 438.15,481.26 439.04,476.65 435.61,473.44 440.27,472.85" fill="#6e5c16" stroke="#5a4c12" stroke-width="0.4"/><circle cx="442.27" cy="475.60" r="4.1" fill="#d6d232" stroke="#8a6a1c" stroke-width="0.7"/>
<text x="449.37" y="479.60" font-size="9.30" text-anchor="start" text-rendering="geometricPrecision" fill="#222" stroke="#222" stroke-width="0.2">7:17am</text>
<polygon points="482.54,482.20 484.54,486.45 489.20,487.04 485.78,490.25 486.66,494.86 482.54,492.60 478.43,494.86 479.31,490.25 475.89,487.04 480.54,486.45" fill="#6e5c16" stroke="#5a4c12" stroke-width="0.4"/><circle cx="482.54" cy="489.20" r="4.1" fill="#c2714c" stroke="#8a6a1c" stroke-width="0.7"/>
<text x="489.64" y="493.20" font-size="9.30" text-anchor="start" text-rendering="geometricPrecision" fill="#222" stroke="#222" stroke-width="0.2">7:55pm</text>
<polygon points="518.83,468.60 520.83,472.85 525.49,473.44 522.07,476.65 522.95,481.26 518.83,479.00 514.72,481.26 515.60,476.65 512.17,473.44 516.83,472.85" fill="#6e5c16" stroke="#5a4c12" stroke-width="0.4"/><circle cx="518.83" cy="475.60" r="4.1" fill="#d6d232" stroke="#8a6a1c" stroke-width="0.7"/>
<text x="525.93" y="479.60" font-size="9.30" text-anchor="start" text-rendering="geometricPrecision" fill="#222" stroke="#222" stroke-width="0.2">7:18am</text>
<polygon points="558.89,482.20 560.89,486.45 565.55,487.04 562.13,490.25 563.01,494.86 558.89,492.60 554.78,494.86 555.66,490.25 552.24,487.04 556.89,486.45" fill="#6e5c16" stroke="#5a4c12" stroke-width="0.4"/><circle cx="558.89" cy="489.20" r="4.1" fill="#c2714c" stroke="#8a6a1c" stroke-width="0.7"/>
<text x="565.99" y="493.20" font-size="9.30" text-anchor="start" text-rendering="geometricPrecision" fill="#222" stroke="#222" stroke-width="0.2">7:52pm</text>
<polygon points="595.45,468.60 597.45,472.85 602.11,473.44 598.68,476.65 599.56,481.26 595.45,479.00 591.33,481.26 592.21,476.65 588.79,473.44 593.45,472.85" fill="#6e5c16" stroke="#5a4c12" stroke-width="0.4"/><circle cx="595.45" cy="475.60" r="4.1" fill="#d6d232" stroke="#8a6a1c" stroke-width="0.7"/>
<text x="602.55" y="479.60" font-size="9.30" text-anchor="start" text-rendering="geometricPrecision" fill="#222" stroke="#222" stroke-width="0.2">7:20am</text>
<polygon points="635.30,482.20 637.30,486.45 641.95,487.04 638.53,490.25 639.41,494.86 635.30,492.60 631.18,494.86 632.06,490.25 628.64,487.04 633.30,486.45" fill="#6e5c16" stroke="#5a4c12" stroke-width="0.4"/><circle cx="635.30" cy="489.20" r="4.1" fill="#c2714c" stroke="#8a6a1c" stroke-width="0.7"/>
<text x="642.40" y="493.20" font-size="9.30" text-anchor="start" text-rendering="geometricPrecision" fill="#222" stroke="#222" stroke-width="0.2">7:50pm</text>
<polygon points="672.06,468.60 674.06,472.85 678.72,473.44 675.30,476.65 676.18,481.26 672.06,479.00 667.95,481.26 668.83,476.65 665.41,473.44 670.07,472.85" fill="#6e5c16" stroke="#5a4c12" stroke-width="0.4"/><circle cx="672.06" cy="475.60" r="4.1" fill="#d6d232" stroke="#8a6a1c" stroke-width="0.7"/>
<text x="679.16" y="479.60" font-size="9.30" text-anchor="start" text-rendering="geometricPrecision" fill="#222" stroke="#222" stroke-width="0.2">7:22am</text>
<circle cx="73.53" cy="502.9" r="5.1" fill="#ffffcc" stroke="#8a8a70" stroke-width="1"/>
<text x="80.93" y="506.50" font-size="9.30" text-anchor="start" text-rendering="geometricPrecision" fill="#222" stroke="#222" stroke-width="0.2">11:37am</text>
<circle cx="154.51" cy="502.9" r="5.1" fill="#ffffcc" stroke="#8a8a70" stroke-width="1"/>
<text x="161.91" y="506.50" font-size="9.30" text-anchor="start" text-rendering="geometricPrecision" fill="#222" stroke="#222" stroke-width="0.2">1:01pm</text>
<circle cx="235.05" cy="502.9" r="5.1" fill="#ffffcc" stroke="#8a8a70" stroke-width="1"/>
<text x="242.45" y="506.50" font-size="9.30" text-anchor="start" text-rendering="geometricPrecision" fill="#222" stroke="#222" stroke-width="0.2">2:17pm</text>
<circle cx="315.07" cy="502.9" r="5.1" fill="#ffffcc" stroke="#8a8a70" stroke-width="1"/>
<text x="322.47" y="506.50" font-size="9.30" text-anchor="start" text-rendering="geometricPrecision" fill="#222" stroke="#222" stroke-width="0.2">3:23pm</text>
<circle cx="394.40" cy="502.9" r="5.1" fill="#ffffcc" stroke="#8a8a70" stroke-width="1"/>
<text x="401.80" y="506.50" font-size="9.30" text-anchor="start" text-rendering="geometricPrecision" fill="#222" stroke="#222" stroke-width="0.2">4:16pm</text>
<circle cx="473.09" cy="502.9" r="5.1" fill="#ffffcc" stroke="#8a8a70" stroke-width="1"/>
<text x="480.49" y="506.50" font-size="9.30" text-anchor="start" text-rendering="geometricPrecision" fill="#222" stroke="#222" stroke-width="0.2">4:57pm</text>
<circle cx="551.19" cy="502.9" r="5.1" fill="#ffffcc" stroke="#8a8a70" stroke-width="1"/>
<text x="558.59" y="506.50" font-size="9.30" text-anchor="start" text-rendering="geometricPrecision" fill="#222" stroke="#222" stroke-width="0.2">5:27pm</text>
<circle cx="628.97" cy="502.9" r="5.1" fill="#ffffcc" stroke="#8a8a70" stroke-width="1"/>
<text x="636.37" y="506.50" font-size="9.30" text-anchor="start" text-rendering="geometricPrecision" fill="#222" stroke="#222" stroke-width="0.2">5:51pm</text>
<circle cx="102.86" cy="516.4" r="5.1" fill="#c8c8b0" stroke="#7a7a68" stroke-width="1"/>
<text x="109.96" y="520.20" font-size="9.30" text-anchor="start" text-rendering="geometricPrecision" fill="#222" stroke="#222" stroke-width="0.2">8:49pm</text>
<circle cx="180.97" cy="516.4" r="5.1" fill="#c8c8b0" stroke="#7a7a68" stroke-width="1"/>
<text x="188.07" y="520.20" font-size="9.30" text-anchor="start" text-rendering="geometricPrecision" fill="#222" stroke="#222" stroke-width="0.2">9:19pm</text>
<circle cx="259.55" cy="516.4" r="5.1" fill="#c8c8b0" stroke="#7a7a68" stroke-width="1"/>
<text x="266.65" y="520.20" font-size="9.30" text-anchor="start" text-rendering="geometricPrecision" fill="#222" stroke="#222" stroke-width="0.2">9:58pm</text>
<circle cx="338.61" cy="516.4" r="5.1" fill="#c8c8b0" stroke="#7a7a68" stroke-width="1"/>
<text x="345.71" y="520.20" font-size="9.30" text-anchor="start" text-rendering="geometricPrecision" fill="#222" stroke="#222" stroke-width="0.2">10:46pm</text>
<circle cx="418.25" cy="516.4" r="5.1" fill="#c8c8b0" stroke="#7a7a68" stroke-width="1"/>
<text x="425.35" y="520.20" font-size="9.30" text-anchor="start" text-rendering="geometricPrecision" fill="#222" stroke="#222" stroke-width="0.2">11:45pm</text>
<circle cx="498.22" cy="516.4" r="5.1" fill="#c8c8b0" stroke="#7a7a68" stroke-width="1"/>
<text x="505.32" y="520.20" font-size="9.30" text-anchor="start" text-rendering="geometricPrecision" fill="#222" stroke="#222" stroke-width="0.2">12:50am</text>
<circle cx="578.39" cy="516.4" r="5.1" fill="#c8c8b0" stroke="#7a7a68" stroke-width="1"/>
<text x="585.49" y="520.20" font-size="9.30" text-anchor="start" text-rendering="geometricPrecision" fill="#222" stroke="#222" stroke-width="0.2">1:59am</text>
<circle cx="658.62" cy="516.4" r="5.1" fill="#c8c8b0" stroke="#7a7a68" stroke-width="1"/>
<text x="665.72" y="520.20" font-size="9.30" text-anchor="start" text-rendering="geometricPrecision" fill="#222" stroke="#222" stroke-width="0.2">3:09am</text>
<text x="353.50" y="533.90" font-size="9.30" text-anchor="middle" text-rendering="geometricPrecision" fill="#222" stroke="#222" stroke-width="0.2">First Quarter | 6:49am</text>
</svg>
</body></html>
